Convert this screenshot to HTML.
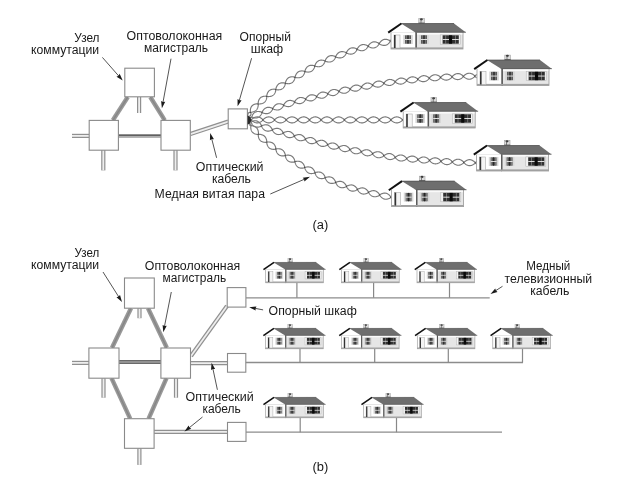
<!DOCTYPE html><html><head><meta charset="utf-8"><style>html,body{margin:0;padding:0;background:#fff}svg{display:block;filter:grayscale(1)}</style></head><body>
<svg width="623" height="498" viewBox="0 0 623 498">
<defs>
<symbol id="house" viewBox="0 0 78 31" overflow="visible">
  <!-- chimney -->
  <rect x="30.8" y="0.6" width="5.6" height="4.8" fill="#dcdcdc" stroke="#a0a0a0" stroke-width="0.6"/>
  <ellipse cx="33.4" cy="1.3" rx="1.5" ry="1.1" fill="#3a3a3a"/>
  <rect x="32.6" y="1.6" width="0.8" height="3.6" fill="#666"/>
  <rect x="30.6" y="4.6" width="6" height="0.8" fill="#555"/>
  <!-- gable body -->
  <rect x="3" y="14" width="25" height="17" fill="#fff" stroke="#999" stroke-width="0.8"/>
  <!-- right body -->
  <rect x="28" y="14" width="47" height="17" fill="#e6e6e6" stroke="#999" stroke-width="0.8"/>
  <rect x="28.6" y="14.4" width="45.8" height="2.2" fill="#fafafa"/>
  <!-- gable triangle -->
  <polygon points="0.5,14.4 13,5.8 27.5,14.4" fill="#fff"/>
  <!-- roof -->
  <polygon points="13,5.5 66,5.4 78,14.4 27.5,14.4" fill="#6e6e6e"/>
  <line x1="13" y1="5.6" x2="66" y2="5.5" stroke="#505050" stroke-width="0.8"/>
  <line x1="27.5" y1="14.2" x2="78" y2="14.2" stroke="#505050" stroke-width="0.6"/>
  <!-- gable edge black -->
  <line x1="0.2" y1="14.6" x2="13.4" y2="5.5" stroke="#111" stroke-width="2"/>
  <!-- divider -->
  <line x1="28.2" y1="14.4" x2="28.2" y2="31" stroke="#555" stroke-width="1.4"/>
  <!-- bottom stripe -->
  <rect x="3" y="29.4" width="72" height="1.6" fill="#a0a0a0"/>
  <!-- door -->
  <rect x="6" y="17" width="6" height="13" fill="#f4f4f4" stroke="#aaa" stroke-width="0.6"/>
  <rect x="6" y="17" width="1.6" height="13" fill="#333"/>
  <!-- windows -->
  <g id="win">
    <rect x="15.2" y="17" width="1.8" height="9" fill="#d8d8d8"/>
    <rect x="23" y="17" width="1.8" height="9" fill="#d8d8d8"/>
    <rect x="17" y="17.3" width="6" height="8.4" fill="#565656"/>
    <rect x="17.9" y="17.3" width="0.5" height="8.4" fill="#a0a0a0"/>
    <rect x="21.6" y="17.3" width="0.5" height="8.4" fill="#a0a0a0"/>
    <rect x="19.5" y="17.3" width="1" height="8.4" fill="#222"/>
    <rect x="17" y="21.1" width="6" height="0.9" fill="#f0f0f0"/>
  </g>
  <use href="#win" x="16" y="0"/>
  <rect x="52.2" y="16.9" width="20" height="9.3" fill="#f2f2f2" stroke="#b0b0b0" stroke-width="0.5"/>
  <rect x="54.6" y="17.3" width="16.2" height="8.4" fill="#303030"/>
  <rect x="57.5" y="17.3" width="0.6" height="8.4" fill="#9a9a9a"/>
  <rect x="67.3" y="17.3" width="0.6" height="8.4" fill="#9a9a9a"/>
  <rect x="54.6" y="21.1" width="16.2" height="0.9" fill="#eeeeee"/>
  <rect x="61" y="17.3" width="3.1" height="8.4" fill="#0a0a0a"/>
</symbol>
</defs>
<rect width="623" height="498" fill="#fff"/>
<path d="M72,135.9 L89.5,135.9" fill="none" stroke="#909090" stroke-width="4.2"/>
<path d="M72,135.9 L89.5,135.9" fill="none" stroke="#eeeeee" stroke-width="1.8"/>
<path d="M103.3,150 L103.3,170.4" fill="none" stroke="#909090" stroke-width="4.2"/>
<path d="M103.3,150 L103.3,170.4" fill="none" stroke="#eeeeee" stroke-width="1.8"/>
<path d="M175.5,150 L175.5,170.4" fill="none" stroke="#909090" stroke-width="4.2"/>
<path d="M175.5,150 L175.5,170.4" fill="none" stroke="#eeeeee" stroke-width="1.8"/>
<path d="M139.1,97 L139.1,113" fill="none" stroke="#909090" stroke-width="4.2"/>
<path d="M139.1,97 L139.1,113" fill="none" stroke="#eeeeee" stroke-width="1.8"/>
<path d="M190.3,134.1 L228.2,121.6" fill="none" stroke="#909090" stroke-width="4.2"/>
<path d="M190.3,134.1 L228.2,121.6" fill="none" stroke="#eeeeee" stroke-width="1.8"/>
<path d="M127.8,97 L112.8,120.3" fill="none" stroke="#999999" stroke-width="4.4"/>
<path d="M127.8,97 L112.8,120.3" fill="none" stroke="#868686" stroke-width="1.4"/>
<path d="M150.3,97 L164.8,120.3" fill="none" stroke="#999999" stroke-width="4.4"/>
<path d="M150.3,97 L164.8,120.3" fill="none" stroke="#868686" stroke-width="1.4"/>
<rect x="118.5" y="134.3" width="42.5" height="1.9" fill="#606060"/><rect x="118.5" y="136.2" width="42.5" height="1.6" fill="#a2a2a2"/>
<rect x="124.8" y="68.2" width="29.60000000000001" height="28.599999999999994" fill="#fff" stroke="#8a8a8a" stroke-width="1.1"/>
<rect x="89.2" y="120.4" width="29.200000000000003" height="29.799999999999983" fill="#fff" stroke="#8a8a8a" stroke-width="1.1"/>
<rect x="161" y="120.4" width="29.30000000000001" height="29.799999999999983" fill="#fff" stroke="#8a8a8a" stroke-width="1.1"/>
<rect x="228.2" y="108.9" width="19.200000000000017" height="19.900000000000006" fill="#fff" stroke="#8a8a8a" stroke-width="1.1"/>
<path d="M248.00,117.00 L247.94,116.51 L247.88,116.03 L247.84,115.56 L247.81,115.10 L247.82,114.67 L247.88,114.24 L247.98,113.84 L248.15,113.46 L248.39,113.11 L248.70,112.80 L249.18,112.59 L249.70,112.42 L250.27,112.29 L250.99,112.29 L251.55,112.21 L252.05,112.11 L252.53,111.99 L252.99,111.87 L253.43,111.74 L253.85,111.59 L254.25,111.43 L254.63,111.25 L254.99,111.06 L255.33,110.86 L255.65,110.64 L255.96,110.39 L256.24,110.13 L256.51,109.86 L256.75,109.56 L256.98,109.24 L257.18,108.91 L257.38,108.55 L257.55,108.18 L257.70,107.78 L257.84,107.37 L257.96,106.94 L258.07,106.49 L258.15,106.02 L258.22,105.53 L258.28,105.01 L258.30,104.46 L258.21,103.79 L258.16,103.17 L258.20,102.62 L258.27,102.10 L258.37,101.61 L258.49,101.14 L258.62,100.68 L258.78,100.25 L258.96,99.84 L259.15,99.44 L259.37,99.07 L259.61,98.72 L259.86,98.40 L260.14,98.09 L260.43,97.81 L260.75,97.55 L261.08,97.31 L261.43,97.10 L261.81,96.91 L262.20,96.74 L262.60,96.60 L263.03,96.47 L263.47,96.37 L263.93,96.29 L264.41,96.23 L264.90,96.20 L265.41,96.19 L265.95,96.21 L266.53,96.28 L267.21,96.49 L267.77,96.55 L268.30,96.57 L268.81,96.56 L269.29,96.54 L269.76,96.49 L270.21,96.42 L270.65,96.34 L271.06,96.23 L271.46,96.11 L271.85,95.96 L272.22,95.79 L272.57,95.60 L272.90,95.39 L273.21,95.15 L273.51,94.90 L273.79,94.62 L274.06,94.32 L274.31,93.99 L274.54,93.65 L274.76,93.28 L274.96,92.89 L275.15,92.48 L275.32,92.04 L275.49,91.59 L275.63,91.11 L275.76,90.61 L275.86,90.07 L275.86,89.38 L275.92,88.77 L276.04,88.23 L276.19,87.74 L276.36,87.26 L276.54,86.81 L276.74,86.39 L276.96,85.98 L277.19,85.60 L277.44,85.24 L277.71,84.91 L277.99,84.60 L278.29,84.31 L278.60,84.05 L278.93,83.81 L279.28,83.60 L279.64,83.42 L280.02,83.26 L280.41,83.12 L280.82,83.01 L281.24,82.93 L281.68,82.86 L282.13,82.82 L282.59,82.81 L283.07,82.81 L283.56,82.84 L284.07,82.90 L284.60,82.99 L285.17,83.14 L285.82,83.42 L286.37,83.54 L286.90,83.62 L287.40,83.67 L287.88,83.69 L288.35,83.70 L288.81,83.68 L289.25,83.64 L289.68,83.57 L290.10,83.49 L290.50,83.38 L290.88,83.25 L291.25,83.09 L291.61,82.91 L291.95,82.70 L292.27,82.47 L292.58,82.22 L292.88,81.94 L293.16,81.63 L293.42,81.31 L293.68,80.95 L293.92,80.58 L294.14,80.18 L294.36,79.77 L294.56,79.32 L294.74,78.86 L294.91,78.36 L295.05,77.82 L295.10,77.13 L295.21,76.53 L295.36,76.01 L295.54,75.53 L295.73,75.07 L295.93,74.64 L296.15,74.22 L296.39,73.84 L296.64,73.47 L296.90,73.13 L297.18,72.81 L297.47,72.52 L297.78,72.25 L298.10,72.00 L298.44,71.78 L298.79,71.59 L299.16,71.42 L299.54,71.27 L299.94,71.16 L300.35,71.06 L300.78,70.99 L301.22,70.95 L301.67,70.92 L302.14,70.92 L302.62,70.95 L303.11,71.00 L303.62,71.08 L304.15,71.19 L304.71,71.37 L305.35,71.68 L305.89,71.82 L306.41,71.92 L306.90,71.99 L307.39,72.04 L307.86,72.06 L308.32,72.06 L308.76,72.04 L309.19,71.99 L309.61,71.92 L310.01,71.83 L310.40,71.71 L310.77,71.57 L311.13,71.41 L311.48,71.22 L311.81,71.00 L312.13,70.76 L312.44,70.49 L312.73,70.21 L313.01,69.89 L313.28,69.55 L313.53,69.19 L313.78,68.81 L314.01,68.40 L314.23,67.97 L314.44,67.52 L314.63,67.03 L314.81,66.50 L314.89,65.80 L315.05,65.23 L315.24,64.72 L315.45,64.25 L315.67,63.81 L315.91,63.39 L316.17,63.00 L316.43,62.63 L316.71,62.28 L317.00,61.96 L317.31,61.66 L317.62,61.39 L317.96,61.15 L318.30,60.93 L318.66,60.74 L319.03,60.57 L319.42,60.44 L319.81,60.33 L320.22,60.24 L320.65,60.18 L321.08,60.15 L321.53,60.15 L321.98,60.17 L322.45,60.21 L322.93,60.28 L323.42,60.38 L323.92,60.51 L324.43,60.68 L324.98,60.92 L325.58,61.28 L326.10,61.48 L326.60,61.64 L327.09,61.76 L327.56,61.86 L328.02,61.94 L328.47,61.99 L328.91,62.02 L329.34,62.03 L329.75,62.01 L330.16,61.97 L330.56,61.90 L330.95,61.80 L331.32,61.68 L331.69,61.54 L332.05,61.36 L332.39,61.16 L332.73,60.94 L333.06,60.68 L333.37,60.41 L333.68,60.10 L333.98,59.77 L334.27,59.42 L334.55,59.04 L334.83,58.64 L335.09,58.21 L335.34,57.74 L335.57,57.23 L335.73,56.54 L335.95,55.99 L336.20,55.51 L336.46,55.07 L336.73,54.66 L337.02,54.27 L337.31,53.91 L337.61,53.57 L337.93,53.26 L338.25,52.97 L338.58,52.71 L338.93,52.48 L339.28,52.27 L339.65,52.10 L340.02,51.94 L340.40,51.82 L340.80,51.73 L341.20,51.66 L341.62,51.62 L342.04,51.61 L342.47,51.62 L342.91,51.66 L343.36,51.72 L343.82,51.81 L344.29,51.93 L344.76,52.07 L345.25,52.24 L345.75,52.46 L346.28,52.75 L346.84,53.16 L347.35,53.39 L347.84,53.57 L348.32,53.73 L348.79,53.85 L349.25,53.95 L349.70,54.03 L350.14,54.08 L350.57,54.11 L350.99,54.11 L351.40,54.08 L351.80,54.03 L352.20,53.96 L352.58,53.85 L352.95,53.72 L353.32,53.56 L353.67,53.38 L354.02,53.17 L354.35,52.93 L354.68,52.67 L355.00,52.38 L355.31,52.07 L355.62,51.73 L355.92,51.37 L356.21,50.98 L356.49,50.56 L356.77,50.12 L357.03,49.62 L357.24,48.94 L357.50,48.41 L357.78,47.95 L358.08,47.53 L358.38,47.14 L358.70,46.78 L359.02,46.44 L359.36,46.13 L359.70,45.85 L360.05,45.59 L360.40,45.36 L360.77,45.16 L361.14,44.98 L361.52,44.84 L361.91,44.72 L362.31,44.63 L362.71,44.57 L363.12,44.54 L363.54,44.54 L363.96,44.57 L364.39,44.62 L364.83,44.70 L365.27,44.81 L365.72,44.94 L366.18,45.10 L366.64,45.29 L367.11,45.51 L367.59,45.77 L368.09,46.13 L368.61,46.57 L369.09,46.85 L369.56,47.08 L370.01,47.28 L370.46,47.45 L370.90,47.60 L371.34,47.73 L371.77,47.82 L372.19,47.90 L372.61,47.95 L373.02,47.97 L373.43,47.96 L373.83,47.92 L374.22,47.86 L374.61,47.77 L374.99,47.65 L375.36,47.50 L375.73,47.33 L376.10,47.13 L376.46,46.90 L376.81,46.64 L377.16,46.35 L377.50,46.04 L377.84,45.71 L378.17,45.35 L378.49,44.96 L378.80,44.53 L379.10,44.04 L379.36,43.38 L379.66,42.88 L379.97,42.44 L380.28,42.04 L380.61,41.67 L380.94,41.33 L381.27,41.01 L381.62,40.72 L381.96,40.46 L382.32,40.22 L382.68,40.01 L383.05,39.82 L383.42,39.66 L383.80,39.53 L384.19,39.43 L384.58,39.36 L384.98,39.32 L385.39,39.30 L385.80,39.31 L386.22,39.35 L386.65,39.42 L387.08,39.51 L387.52,39.63 L387.97,39.77 L388.42,39.94 L388.87,40.14 L389.34,40.37 L389.81,40.64 L390.31,41.02 L390.83,41.46 L391.30,41.74 L391.77,41.97" fill="none" stroke="#7a7a7a" stroke-width="1.15"/>
<path d="M248.00,117.00 L248.46,116.80 L248.90,116.58 L249.32,116.34 L249.71,116.08 L250.07,115.81 L250.38,115.52 L250.64,115.22 L250.84,114.89 L250.99,114.53 L251.06,114.14 L250.98,113.66 L250.88,113.15 L250.74,112.60 L250.47,111.94 L250.37,111.36 L250.34,110.82 L250.34,110.30 L250.38,109.79 L250.45,109.30 L250.54,108.84 L250.65,108.38 L250.79,107.95 L250.95,107.54 L251.14,107.14 L251.35,106.77 L251.58,106.41 L251.84,106.08 L252.11,105.77 L252.41,105.49 L252.74,105.22 L253.08,104.98 L253.45,104.76 L253.83,104.56 L254.24,104.38 L254.66,104.22 L255.11,104.09 L255.57,103.97 L256.05,103.88 L256.55,103.81 L257.07,103.77 L257.62,103.76 L258.29,103.88 L258.91,103.95 L259.45,103.95 L259.97,103.92 L260.46,103.87 L260.93,103.80 L261.38,103.71 L261.82,103.61 L262.24,103.49 L262.64,103.34 L263.02,103.18 L263.38,103.00 L263.73,102.80 L264.05,102.58 L264.36,102.34 L264.65,102.08 L264.92,101.79 L265.18,101.48 L265.42,101.15 L265.63,100.80 L265.84,100.43 L266.02,100.04 L266.19,99.63 L266.35,99.20 L266.49,98.75 L266.61,98.27 L266.72,97.77 L266.80,97.25 L266.84,96.67 L266.78,95.96 L266.84,95.39 L266.93,94.87 L267.05,94.37 L267.19,93.90 L267.35,93.45 L267.53,93.02 L267.72,92.61 L267.94,92.23 L268.17,91.86 L268.41,91.52 L268.68,91.20 L268.97,90.90 L269.27,90.63 L269.59,90.38 L269.93,90.15 L270.29,89.95 L270.66,89.77 L271.06,89.62 L271.47,89.49 L271.89,89.38 L272.33,89.30 L272.79,89.24 L273.26,89.20 L273.75,89.18 L274.26,89.19 L274.78,89.23 L275.33,89.31 L275.98,89.54 L276.57,89.69 L277.11,89.77 L277.62,89.81 L278.11,89.83 L278.59,89.83 L279.05,89.80 L279.50,89.76 L279.93,89.70 L280.34,89.61 L280.75,89.51 L281.13,89.38 L281.50,89.22 L281.86,89.05 L282.20,88.85 L282.52,88.62 L282.83,88.38 L283.13,88.10 L283.41,87.81 L283.68,87.49 L283.93,87.14 L284.17,86.78 L284.39,86.39 L284.60,85.98 L284.80,85.54 L284.98,85.08 L285.15,84.60 L285.30,84.08 L285.41,83.51 L285.43,82.80 L285.55,82.25 L285.71,81.74 L285.88,81.27 L286.08,80.81 L286.28,80.39 L286.50,79.98 L286.74,79.60 L286.99,79.24 L287.26,78.90 L287.54,78.59 L287.83,78.30 L288.14,78.04 L288.47,77.80 L288.81,77.59 L289.17,77.40 L289.54,77.24 L289.93,77.10 L290.33,76.99 L290.75,76.90 L291.18,76.84 L291.62,76.80 L292.08,76.78 L292.55,76.78 L293.04,76.81 L293.54,76.87 L294.06,76.95 L294.60,77.07 L295.24,77.35 L295.81,77.54 L296.34,77.64 L296.85,77.72 L297.35,77.76 L297.83,77.78 L298.29,77.78 L298.74,77.76 L299.18,77.71 L299.60,77.64 L300.01,77.55 L300.41,77.43 L300.79,77.29 L301.15,77.13 L301.50,76.94 L301.84,76.72 L302.16,76.49 L302.46,76.22 L302.75,75.93 L303.03,75.62 L303.29,75.29 L303.54,74.93 L303.78,74.55 L304.01,74.15 L304.22,73.72 L304.42,73.27 L304.60,72.79 L304.77,72.28 L304.90,71.70 L304.96,71.00 L305.11,70.46 L305.29,69.96 L305.49,69.50 L305.70,69.06 L305.92,68.64 L306.16,68.25 L306.42,67.88 L306.68,67.53 L306.96,67.21 L307.26,66.91 L307.57,66.64 L307.89,66.39 L308.23,66.17 L308.58,65.97 L308.95,65.80 L309.34,65.65 L309.73,65.54 L310.14,65.44 L310.57,65.38 L311.00,65.33 L311.45,65.32 L311.91,65.32 L312.39,65.35 L312.87,65.41 L313.37,65.49 L313.89,65.61 L314.42,65.77 L315.05,66.10 L315.60,66.31 L316.13,66.45 L316.63,66.55 L317.11,66.63 L317.59,66.69 L318.05,66.72 L318.50,66.73 L318.93,66.72 L319.36,66.68 L319.77,66.62 L320.17,66.54 L320.55,66.43 L320.93,66.29 L321.29,66.13 L321.63,65.95 L321.97,65.74 L322.29,65.50 L322.61,65.24 L322.90,64.95 L323.19,64.64 L323.47,64.31 L323.74,63.95 L324.00,63.57 L324.25,63.16 L324.49,62.73 L324.72,62.28 L324.93,61.78 L325.11,61.21 L325.25,60.52 L325.46,60.00 L325.69,59.53 L325.94,59.09 L326.21,58.68 L326.48,58.29 L326.77,57.93 L327.07,57.59 L327.38,57.28 L327.70,56.99 L328.03,56.73 L328.38,56.50 L328.73,56.30 L329.10,56.12 L329.48,55.97 L329.86,55.85 L330.26,55.75 L330.67,55.69 L331.09,55.65 L331.52,55.64 L331.95,55.65 L332.40,55.69 L332.85,55.76 L333.32,55.85 L333.79,55.96 L334.28,56.10 L334.77,56.28 L335.29,56.51 L335.87,56.91 L336.40,57.17 L336.90,57.37 L337.39,57.52 L337.86,57.65 L338.33,57.76 L338.78,57.84 L339.23,57.90 L339.67,57.93 L340.09,57.94 L340.51,57.92 L340.91,57.87 L341.31,57.80 L341.70,57.71 L342.08,57.58 L342.44,57.43 L342.80,57.25 L343.15,57.05 L343.49,56.81 L343.82,56.56 L344.14,56.27 L344.45,55.96 L344.75,55.63 L345.05,55.27 L345.34,54.89 L345.61,54.48 L345.88,54.04 L346.14,53.56 L346.36,52.99 L346.55,52.33 L346.80,51.83 L347.06,51.38 L347.34,50.96 L347.62,50.56 L347.92,50.20 L348.22,49.85 L348.54,49.54 L348.86,49.24 L349.19,48.98 L349.54,48.74 L349.89,48.53 L350.25,48.34 L350.63,48.18 L351.01,48.05 L351.40,47.95 L351.81,47.88 L352.22,47.84 L352.64,47.82 L353.07,47.83 L353.51,47.87 L353.96,47.93 L354.41,48.02 L354.88,48.13 L355.35,48.28 L355.83,48.45 L356.31,48.66 L356.82,48.92 L357.37,49.37 L357.88,49.66 L358.36,49.89 L358.83,50.08 L359.29,50.25 L359.75,50.39 L360.19,50.50 L360.63,50.59 L361.06,50.66 L361.48,50.70 L361.89,50.72 L362.30,50.71 L362.69,50.67 L363.09,50.61 L363.47,50.51 L363.85,50.39 L364.22,50.25 L364.58,50.07 L364.94,49.87 L365.28,49.64 L365.63,49.39 L365.97,49.11 L366.30,48.80 L366.62,48.47 L366.94,48.11 L367.26,47.73 L367.56,47.31 L367.86,46.86 L368.13,46.31 L368.39,45.67 L368.69,45.20 L369.00,44.78 L369.32,44.39 L369.65,44.03 L369.98,43.70 L370.33,43.39 L370.68,43.11 L371.03,42.86 L371.40,42.63 L371.77,42.43 L372.14,42.26 L372.52,42.12 L372.91,42.01 L373.30,41.93 L373.70,41.87 L374.11,41.85 L374.52,41.85 L374.93,41.88 L375.36,41.94 L375.79,42.02 L376.22,42.13 L376.66,42.27 L377.10,42.43 L377.55,42.61 L378.01,42.83 L378.47,43.08 L378.95,43.39 L379.48,43.87 L379.96,44.19 L380.43,44.45 L380.89,44.67 L381.35,44.86 L381.80,45.02 L382.24,45.15 L382.68,45.26 L383.11,45.35 L383.53,45.40 L383.95,45.43 L384.36,45.44 L384.77,45.41 L385.17,45.36 L385.56,45.27 L385.94,45.16 L386.32,45.02 L386.69,44.86 L387.06,44.66 L387.42,44.44 L387.77,44.19 L388.11,43.92 L388.45,43.61 L388.79,43.29 L389.12,42.94 L389.44,42.56 L389.75,42.14 L390.06,41.69 L390.34,41.13 L390.60,40.51 L390.91,40.05 L391.22,39.63" fill="none" stroke="#7a7a7a" stroke-width="1.15"/>
<path d="M249.86,112.45a0.65,0.65 0 1 0 1.3,0a0.65,0.65 0 1 0 -1.3,0M257.31,104.11a0.65,0.65 0 1 0 1.3,0a0.65,0.65 0 1 0 -1.3,0M266.04,96.47a0.65,0.65 0 1 0 1.3,0a0.65,0.65 0 1 0 -1.3,0M274.94,89.69a0.65,0.65 0 1 0 1.3,0a0.65,0.65 0 1 0 -1.3,0M284.64,83.32a0.65,0.65 0 1 0 1.3,0a0.65,0.65 0 1 0 -1.3,0M294.17,77.45a0.65,0.65 0 1 0 1.3,0a0.65,0.65 0 1 0 -1.3,0M304.15,71.54a0.65,0.65 0 1 0 1.3,0a0.65,0.65 0 1 0 -1.3,0M313.96,66.13a0.65,0.65 0 1 0 1.3,0a0.65,0.65 0 1 0 -1.3,0M324.40,61.07a0.65,0.65 0 1 0 1.3,0a0.65,0.65 0 1 0 -1.3,0M334.78,56.87a0.65,0.65 0 1 0 1.3,0a0.65,0.65 0 1 0 -1.3,0M345.67,52.87a0.65,0.65 0 1 0 1.3,0a0.65,0.65 0 1 0 -1.3,0M356.27,49.27a0.65,0.65 0 1 0 1.3,0a0.65,0.65 0 1 0 -1.3,0M367.46,46.22a0.65,0.65 0 1 0 1.3,0a0.65,0.65 0 1 0 -1.3,0M378.38,43.72a0.65,0.65 0 1 0 1.3,0a0.65,0.65 0 1 0 -1.3,0M389.67,41.08a0.65,0.65 0 1 0 1.3,0a0.65,0.65 0 1 0 -1.3,0" fill="#4a4a4a"/>
<path d="M249.50,118.00 L249.94,118.00 L250.35,117.95 L250.74,117.83 L251.10,117.65 L251.42,117.39 L251.66,116.95 L251.89,116.49 L252.11,116.00 L252.32,115.49 L252.51,114.94 L252.77,114.53 L253.03,114.15 L253.31,113.80 L253.60,113.46 L253.90,113.15 L254.21,112.87 L254.54,112.61 L254.88,112.38 L255.23,112.17 L255.59,111.99 L255.97,111.84 L256.35,111.71 L256.75,111.62 L257.16,111.54 L257.59,111.50 L258.02,111.48 L258.47,111.49 L258.92,111.52 L259.39,111.58 L259.86,111.67 L260.35,111.78 L260.84,111.92 L261.35,112.10 L261.88,112.35 L262.47,112.75 L262.98,112.98 L263.48,113.15 L263.96,113.30 L264.43,113.42 L264.89,113.51 L265.34,113.59 L265.78,113.64 L266.21,113.66 L266.63,113.66 L267.04,113.64 L267.44,113.59 L267.83,113.51 L268.21,113.41 L268.58,113.28 L268.95,113.12 L269.30,112.94 L269.65,112.73 L269.99,112.50 L270.32,112.23 L270.64,111.95 L270.95,111.63 L271.25,111.29 L271.55,110.93 L271.84,110.54 L272.12,110.13 L272.39,109.68 L272.64,109.19 L272.84,108.53 L273.07,107.96 L273.33,107.48 L273.61,107.05 L273.90,106.64 L274.20,106.26 L274.50,105.91 L274.82,105.58 L275.14,105.27 L275.48,105.00 L275.82,104.74 L276.17,104.52 L276.53,104.32 L276.90,104.15 L277.28,104.01 L277.67,103.90 L278.06,103.82 L278.47,103.76 L278.88,103.73 L279.30,103.73 L279.73,103.75 L280.17,103.81 L280.61,103.88 L281.07,103.99 L281.53,104.12 L281.99,104.27 L282.47,104.46 L282.96,104.68 L283.46,104.96 L284.02,105.41 L284.52,105.68 L285.00,105.89 L285.47,106.08 L285.94,106.23 L286.39,106.36 L286.84,106.46 L287.28,106.54 L287.71,106.59 L288.13,106.62 L288.55,106.62 L288.95,106.60 L289.35,106.54 L289.74,106.46 L290.12,106.36 L290.50,106.22 L290.86,106.06 L291.22,105.87 L291.57,105.66 L291.92,105.42 L292.25,105.15 L292.58,104.86 L292.91,104.54 L293.22,104.20 L293.53,103.83 L293.84,103.43 L294.13,103.01 L294.42,102.53 L294.66,101.90 L294.92,101.34 L295.21,100.87 L295.52,100.45 L295.84,100.07 L296.16,99.71 L296.49,99.37 L296.83,99.06 L297.17,98.78 L297.53,98.53 L297.89,98.30 L298.25,98.10 L298.63,97.93 L299.01,97.78 L299.39,97.67 L299.79,97.58 L300.19,97.52 L300.59,97.49 L301.01,97.49 L301.42,97.52 L301.85,97.57 L302.28,97.65 L302.72,97.76 L303.16,97.89 L303.61,98.05 L304.06,98.23 L304.52,98.44 L304.99,98.69 L305.48,99.00 L306.01,99.48 L306.50,99.78 L306.97,100.02 L307.43,100.23 L307.88,100.41 L308.33,100.56 L308.78,100.69 L309.21,100.79 L309.64,100.87 L310.07,100.92 L310.48,100.94 L310.89,100.94 L311.30,100.90 L311.69,100.84 L312.08,100.76 L312.47,100.64 L312.84,100.49 L313.21,100.32 L313.58,100.12 L313.93,99.89 L314.28,99.64 L314.63,99.36 L314.96,99.05 L315.29,98.72 L315.62,98.37 L315.94,97.98 L316.25,97.56 L316.55,97.10 L316.81,96.50 L317.08,95.92 L317.38,95.46 L317.69,95.04 L318.00,94.66 L318.33,94.30 L318.65,93.97 L318.99,93.66 L319.33,93.38 L319.68,93.12 L320.03,92.90 L320.40,92.69 L320.77,92.52 L321.14,92.37 L321.53,92.26 L321.92,92.17 L322.32,92.10 L322.72,92.07 L323.13,92.07 L323.55,92.09 L323.98,92.14 L324.41,92.21 L324.85,92.32 L325.30,92.44 L325.75,92.60 L326.20,92.78 L326.67,92.99 L327.14,93.24 L327.62,93.55 L328.15,94.03 L328.63,94.35 L329.10,94.60 L329.56,94.81 L330.01,95.00 L330.46,95.16 L330.90,95.30 L331.33,95.41 L331.76,95.49 L332.18,95.55 L332.59,95.59 L333.00,95.59 L333.40,95.57 L333.80,95.52 L334.19,95.44 L334.57,95.33 L334.95,95.20 L335.32,95.04 L335.69,94.85 L336.05,94.63 L336.40,94.39 L336.75,94.12 L337.09,93.83 L337.43,93.51 L337.77,93.16 L338.10,92.79 L338.42,92.39 L338.73,91.94 L339.03,91.38 L339.31,90.77 L339.63,90.32 L339.95,89.92 L340.29,89.54 L340.63,89.20 L340.97,88.88 L341.32,88.59 L341.68,88.32 L342.04,88.08 L342.41,87.87 L342.79,87.68 L343.16,87.53 L343.55,87.40 L343.94,87.30 L344.33,87.23 L344.74,87.19 L345.14,87.17 L345.55,87.19 L345.97,87.23 L346.39,87.30 L346.82,87.40 L347.25,87.52 L347.69,87.67 L348.13,87.85 L348.57,88.05 L349.02,88.28 L349.48,88.55 L349.95,88.87 L350.45,89.38 L350.92,89.72 L351.38,89.99 L351.83,90.23 L352.27,90.44 L352.71,90.62 L353.14,90.78 L353.57,90.91 L354.00,91.02 L354.42,91.10 L354.83,91.15 L355.24,91.17 L355.65,91.17 L356.05,91.14 L356.44,91.08 L356.83,90.99 L357.22,90.87 L357.60,90.72 L357.97,90.55 L358.34,90.35 L358.71,90.12 L359.07,89.86 L359.43,89.58 L359.78,89.27 L360.13,88.94 L360.47,88.58 L360.80,88.18 L361.13,87.75 L361.44,87.21 L361.73,86.60 L362.06,86.15 L362.39,85.75 L362.73,85.38 L363.07,85.04 L363.42,84.72 L363.77,84.43 L364.13,84.17 L364.49,83.93 L364.86,83.72 L365.23,83.54 L365.61,83.39 L365.99,83.26 L366.38,83.16 L366.78,83.09 L367.18,83.05 L367.58,83.04 L367.99,83.05 L368.41,83.10 L368.83,83.17 L369.26,83.27 L369.69,83.39 L370.12,83.54 L370.56,83.72 L371.01,83.92 L371.46,84.16 L371.91,84.43 L372.38,84.75 L372.87,85.26 L373.34,85.61 L373.80,85.90 L374.24,86.14 L374.69,86.36 L375.12,86.55 L375.56,86.71 L375.99,86.84 L376.41,86.96 L376.83,87.04 L377.24,87.10 L377.65,87.13 L378.05,87.13 L378.45,87.10 L378.85,87.05 L379.23,86.97 L379.62,86.86 L380.00,86.72 L380.37,86.55 L380.74,86.36 L381.11,86.14 L381.47,85.90 L381.83,85.62 L382.19,85.33 L382.54,85.00 L382.89,84.65 L383.23,84.27 L383.57,83.85 L383.90,83.34 L384.22,82.73 L384.56,82.29 L384.91,81.90 L385.27,81.54 L385.63,81.22 L386.00,80.92 L386.37,80.64 L386.74,80.40 L387.12,80.18 L387.50,79.99 L387.89,79.82 L388.28,79.69 L388.67,79.58 L389.06,79.51 L389.46,79.46 L389.87,79.44 L390.27,79.45 L390.68,79.49 L391.10,79.56 L391.51,79.65 L391.93,79.77 L392.35,79.92 L392.78,80.10 L393.20,80.30 L393.63,80.53 L394.07,80.79 L394.51,81.08 L394.95,81.42 L395.42,81.95 L395.87,82.34 L396.30,82.65 L396.74,82.92 L397.17,83.16 L397.60,83.37 L398.02,83.56 L398.44,83.72 L398.86,83.86 L399.27,83.96 L399.68,84.05 L400.09,84.10 L400.49,84.13 L400.89,84.12 L401.29,84.09 L401.69,84.03 L402.08,83.94 L402.47,83.82 L402.85,83.68 L403.24,83.50 L403.62,83.30 L403.99,83.07 L404.37,82.82 L404.74,82.54 L405.11,82.23 L405.47,81.90 L405.83,81.53 L406.19,81.13 L406.54,80.64 L406.87,80.02 L407.22,79.59 L407.58,79.21 L407.95,78.86 L408.31,78.54 L408.68,78.25 L409.06,77.99 L409.43,77.75 L409.81,77.53 L410.19,77.35 L410.58,77.19 L410.97,77.06 L411.36,76.96 L411.75,76.88 L412.15,76.84 L412.56,76.82 L412.96,76.84 L413.37,76.88 L413.78,76.95 L414.20,77.05 L414.61,77.18 L415.03,77.33 L415.46,77.51 L415.88,77.72 L416.31,77.95 L416.74,78.21 L417.17,78.51 L417.61,78.86 L418.07,79.39 L418.51,79.79 L418.95,80.11 L419.38,80.39 L419.80,80.64 L420.23,80.86 L420.65,81.06 L421.07,81.23 L421.48,81.37 L421.89,81.49 L422.30,81.58 L422.71,81.64 L423.11,81.67 L423.51,81.68 L423.91,81.66 L424.30,81.61 L424.70,81.53 L425.08,81.42 L425.47,81.28 L425.85,81.12 L426.24,80.92 L426.62,80.71 L426.99,80.46 L427.37,80.19 L427.74,79.90 L428.12,79.57 L428.49,79.22 L428.85,78.83 L429.22,78.36 L429.57,77.75 L429.94,77.33 L430.31,76.96 L430.69,76.62 L431.07,76.31 L431.45,76.03 L431.84,75.78 L432.23,75.56 L432.62,75.36 L433.01,75.19 L433.40,75.04 L433.80,74.93 L434.19,74.84 L434.59,74.79 L434.99,74.76 L435.40,74.76 L435.80,74.79 L436.21,74.85 L436.62,74.94 L437.03,75.06 L437.44,75.20 L437.85,75.37 L438.26,75.57 L438.68,75.80 L439.09,76.05 L439.51,76.33 L439.93,76.64 L440.35,77.00 L440.78,77.55 L441.21,77.98 L441.63,78.32 L442.05,78.62 L442.46,78.89 L442.88,79.13 L443.29,79.34 L443.70,79.53 L444.11,79.70 L444.51,79.83 L444.92,79.94 L445.32,80.02 L445.72,80.08 L446.12,80.10 L446.52,80.10 L446.92,80.06 L447.32,80.00 L447.71,79.91 L448.10,79.79 L448.50,79.65 L448.89,79.47 L449.28,79.27 L449.67,79.04 L450.05,78.79 L450.44,78.51 L450.83,78.20 L451.21,77.87 L451.59,77.49 L451.97,77.04 L452.34,76.44 L452.73,76.02 L453.11,75.66 L453.50,75.33 L453.88,75.04 L454.27,74.77 L454.66,74.52 L455.05,74.31 L455.45,74.12 L455.84,73.95 L456.24,73.82 L456.63,73.71 L457.03,73.64 L457.43,73.59 L457.83,73.57 L458.23,73.58 L458.64,73.62 L459.04,73.68 L459.45,73.78 L459.86,73.91 L460.26,74.06 L460.67,74.24 L461.08,74.44 L461.49,74.67 L461.90,74.93 L462.31,75.22 L462.72,75.54 L463.14,75.92 L463.55,76.46 L463.97,76.91 L464.38,77.27 L464.78,77.59 L465.19,77.87 L465.59,78.13 L466.00,78.36 L466.40,78.56 L466.80,78.74 L467.20,78.89 L467.60,79.02 L468.00,79.12 L468.40,79.19 L468.79,79.23 L469.19,79.24 L469.59,79.22 L469.99,79.18 L470.38,79.11 L470.78,79.00 L471.18,78.87 L471.58,78.72 L471.98,78.53 L472.37,78.32 L472.77,78.08 L473.16,77.82 L473.56,77.53 L473.95,77.21 L474.35,76.86 L474.75,76.43 L475.15,75.85 L475.55,75.45 L475.96,75.10 L476.36,74.79 L476.76,74.52" fill="none" stroke="#7a7a7a" stroke-width="1.15"/>
<path d="M249.50,118.00 L249.80,117.68 L250.11,117.41 L250.46,117.20 L250.83,117.05 L251.24,116.99 L251.73,117.10 L252.23,117.24 L252.74,117.39 L253.26,117.58 L253.80,117.80 L254.27,117.88 L254.73,117.93 L255.18,117.96 L255.62,117.97 L256.05,117.95 L256.47,117.90 L256.87,117.84 L257.27,117.74 L257.65,117.62 L258.02,117.48 L258.37,117.31 L258.72,117.11 L259.05,116.89 L259.37,116.64 L259.68,116.37 L259.99,116.07 L260.28,115.75 L260.56,115.41 L260.83,115.04 L261.09,114.65 L261.35,114.23 L261.60,113.79 L261.83,113.31 L262.04,112.76 L262.20,112.07 L262.43,111.55 L262.68,111.08 L262.95,110.65 L263.22,110.25 L263.51,109.87 L263.81,109.51 L264.12,109.18 L264.44,108.88 L264.77,108.60 L265.11,108.35 L265.47,108.13 L265.83,107.94 L266.20,107.77 L266.58,107.63 L266.97,107.52 L267.37,107.44 L267.78,107.38 L268.20,107.36 L268.62,107.35 L269.06,107.38 L269.50,107.43 L269.95,107.51 L270.41,107.61 L270.88,107.74 L271.36,107.90 L271.84,108.08 L272.35,108.32 L272.91,108.72 L273.43,109.03 L273.93,109.25 L274.41,109.43 L274.88,109.59 L275.34,109.71 L275.80,109.81 L276.24,109.89 L276.68,109.95 L277.10,109.98 L277.52,109.98 L277.93,109.96 L278.33,109.91 L278.72,109.83 L279.11,109.73 L279.48,109.60 L279.85,109.44 L280.20,109.25 L280.55,109.04 L280.90,108.80 L281.23,108.54 L281.55,108.25 L281.87,107.93 L282.18,107.59 L282.49,107.23 L282.79,106.84 L283.07,106.42 L283.35,105.96 L283.61,105.44 L283.82,104.76 L284.09,104.26 L284.37,103.81 L284.66,103.39 L284.96,103.01 L285.28,102.65 L285.59,102.32 L285.92,102.01 L286.26,101.73 L286.60,101.47 L286.95,101.24 L287.31,101.04 L287.68,100.87 L288.06,100.72 L288.45,100.60 L288.84,100.51 L289.24,100.45 L289.65,100.42 L290.07,100.41 L290.50,100.43 L290.93,100.48 L291.37,100.56 L291.82,100.66 L292.27,100.79 L292.73,100.94 L293.20,101.12 L293.68,101.34 L294.16,101.60 L294.69,102.02 L295.20,102.38 L295.68,102.64 L296.15,102.85 L296.61,103.04 L297.06,103.20 L297.50,103.33 L297.94,103.45 L298.37,103.53 L298.79,103.59 L299.21,103.63 L299.62,103.64 L300.02,103.62 L300.42,103.57 L300.81,103.50 L301.19,103.39 L301.57,103.26 L301.94,103.10 L302.31,102.92 L302.67,102.71 L303.02,102.47 L303.37,102.20 L303.71,101.91 L304.05,101.59 L304.38,101.24 L304.70,100.87 L305.01,100.47 L305.32,100.04 L305.61,99.54 L305.86,98.87 L306.15,98.38 L306.46,97.94 L306.77,97.54 L307.09,97.17 L307.42,96.83 L307.75,96.51 L308.10,96.22 L308.44,95.95 L308.80,95.72 L309.16,95.50 L309.52,95.32 L309.90,95.16 L310.28,95.03 L310.66,94.93 L311.06,94.86 L311.46,94.81 L311.87,94.79 L312.28,94.81 L312.70,94.84 L313.13,94.91 L313.56,95.00 L314.00,95.11 L314.45,95.26 L314.90,95.42 L315.36,95.62 L315.83,95.85 L316.31,96.12 L316.82,96.53 L317.33,96.92 L317.80,97.19 L318.27,97.41 L318.73,97.61 L319.19,97.77 L319.63,97.91 L320.08,98.03 L320.51,98.11 L320.94,98.17 L321.36,98.21 L321.77,98.22 L322.18,98.20 L322.58,98.15 L322.97,98.08 L323.36,97.97 L323.74,97.84 L324.11,97.68 L324.47,97.50 L324.83,97.28 L325.18,97.04 L325.52,96.78 L325.86,96.49 L326.20,96.17 L326.52,95.83 L326.84,95.46 L327.16,95.06 L327.47,94.63 L327.76,94.14 L328.02,93.47 L328.31,92.98 L328.62,92.55 L328.94,92.15 L329.27,91.78 L329.60,91.44 L329.94,91.13 L330.29,90.84 L330.64,90.58 L331.00,90.34 L331.37,90.14 L331.74,89.96 L332.12,89.80 L332.50,89.68 L332.89,89.58 L333.29,89.52 L333.70,89.48 L334.11,89.47 L334.52,89.49 L334.94,89.54 L335.37,89.61 L335.80,89.71 L336.24,89.84 L336.69,89.99 L337.13,90.17 L337.59,90.38 L338.05,90.62 L338.52,90.90 L339.01,91.30 L339.51,91.74 L339.98,92.03 L340.43,92.28 L340.88,92.49 L341.33,92.68 L341.77,92.84 L342.20,92.98 L342.63,93.09 L343.05,93.17 L343.47,93.23 L343.88,93.26 L344.28,93.26 L344.68,93.24 L345.08,93.19 L345.47,93.11 L345.85,93.00 L346.23,92.86 L346.61,92.69 L346.98,92.50 L347.34,92.28 L347.70,92.03 L348.05,91.76 L348.40,91.46 L348.75,91.14 L349.09,90.79 L349.42,90.41 L349.75,89.99 L350.07,89.52 L350.36,88.87 L350.67,88.38 L351.00,87.96 L351.34,87.58 L351.68,87.22 L352.03,86.90 L352.38,86.60 L352.74,86.32 L353.11,86.08 L353.47,85.86 L353.85,85.66 L354.22,85.50 L354.61,85.36 L354.99,85.25 L355.39,85.17 L355.78,85.12 L356.19,85.10 L356.59,85.10 L357.00,85.13 L357.42,85.19 L357.84,85.28 L358.27,85.40 L358.70,85.54 L359.14,85.70 L359.58,85.90 L360.02,86.11 L360.47,86.37 L360.93,86.66 L361.41,87.05 L361.90,87.52 L362.37,87.83 L362.82,88.08 L363.27,88.30 L363.71,88.50 L364.15,88.67 L364.59,88.81 L365.02,88.93 L365.44,89.02 L365.86,89.08 L366.27,89.12 L366.68,89.12 L367.08,89.10 L367.48,89.06 L367.87,88.98 L368.26,88.87 L368.64,88.74 L369.01,88.58 L369.38,88.39 L369.75,88.17 L370.11,87.93 L370.47,87.66 L370.82,87.37 L371.16,87.05 L371.51,86.70 L371.85,86.33 L372.18,85.92 L372.50,85.45 L372.79,84.81 L373.12,84.32 L373.45,83.90 L373.79,83.52 L374.13,83.17 L374.49,82.84 L374.84,82.54 L375.20,82.27 L375.57,82.03 L375.94,81.81 L376.31,81.61 L376.69,81.45 L377.08,81.32 L377.47,81.21 L377.86,81.13 L378.26,81.08 L378.67,81.06 L379.08,81.07 L379.49,81.11 L379.91,81.18 L380.34,81.27 L380.76,81.39 L381.20,81.54 L381.63,81.71 L382.07,81.92 L382.51,82.14 L382.96,82.41 L383.41,82.71 L383.87,83.11 L384.35,83.61 L384.79,83.93 L385.24,84.21 L385.67,84.46 L386.10,84.67 L386.53,84.87 L386.95,85.03 L387.37,85.17 L387.79,85.29 L388.20,85.38 L388.61,85.44 L389.01,85.47 L389.41,85.48 L389.81,85.45 L390.20,85.40 L390.59,85.32 L390.98,85.21 L391.37,85.08 L391.75,84.91 L392.13,84.72 L392.50,84.50 L392.87,84.26 L393.24,83.99 L393.61,83.69 L393.97,83.36 L394.34,83.01 L394.69,82.62 L395.04,82.18 L395.37,81.56 L395.71,81.08 L396.07,80.67 L396.43,80.31 L396.79,79.97 L397.16,79.67 L397.53,79.39 L397.91,79.13 L398.29,78.91 L398.67,78.71 L399.05,78.53 L399.44,78.39 L399.83,78.27 L400.22,78.19 L400.62,78.13 L401.02,78.10 L401.42,78.10 L401.83,78.13 L402.24,78.18 L402.65,78.27 L403.07,78.38 L403.48,78.52 L403.90,78.69 L404.33,78.88 L404.76,79.10 L405.19,79.34 L405.62,79.62 L406.06,79.93 L406.50,80.33 L406.96,80.86 L407.41,81.20 L407.84,81.49 L408.27,81.75 L408.70,81.98 L409.13,82.18 L409.55,82.36 L409.97,82.51 L410.38,82.64 L410.80,82.73 L411.21,82.80 L411.61,82.84 L412.02,82.86 L412.42,82.84 L412.81,82.80 L413.21,82.72 L413.60,82.62 L413.98,82.49 L414.37,82.33 L414.75,82.15 L415.12,81.93 L415.50,81.70 L415.87,81.43 L416.24,81.14 L416.61,80.82 L416.98,80.48 L417.34,80.10 L417.69,79.67 L418.03,79.05 L418.39,78.57 L418.75,78.17 L419.11,77.81 L419.48,77.48 L419.86,77.18 L420.23,76.91 L420.61,76.66 L420.99,76.43 L421.37,76.24 L421.76,76.07 L422.15,75.93 L422.54,75.82 L422.94,75.74 L423.34,75.68 L423.74,75.66 L424.15,75.67 L424.55,75.70 L424.96,75.76 L425.38,75.85 L425.79,75.97 L426.21,76.12 L426.63,76.29 L427.05,76.49 L427.47,76.72 L427.90,76.98 L428.32,77.26 L428.75,77.59 L429.19,77.99 L429.63,78.54 L430.06,78.90 L430.48,79.21 L430.90,79.49 L431.32,79.73 L431.74,79.96 L432.15,80.15 L432.56,80.32 L432.97,80.46 L433.38,80.58 L433.78,80.67 L434.18,80.73 L434.58,80.76 L434.98,80.77 L435.38,80.74 L435.77,80.69 L436.17,80.61 L436.56,80.50 L436.95,80.36 L437.34,80.19 L437.73,80.00 L438.11,79.78 L438.50,79.53 L438.88,79.26 L439.27,78.96 L439.65,78.64 L440.03,78.28 L440.40,77.86 L440.77,77.27 L441.14,76.80 L441.52,76.41 L441.90,76.06 L442.28,75.75 L442.67,75.46 L443.06,75.20 L443.45,74.97 L443.84,74.76 L444.23,74.58 L444.62,74.43 L445.02,74.30 L445.41,74.21 L445.81,74.14 L446.21,74.10 L446.61,74.10 L447.02,74.12 L447.42,74.17 L447.83,74.25 L448.23,74.35 L448.64,74.49 L449.05,74.65 L449.46,74.84 L449.87,75.05 L450.29,75.29 L450.70,75.56 L451.11,75.86 L451.53,76.20 L451.95,76.61 L452.38,77.18 L452.80,77.56 L453.21,77.88 L453.62,78.17 L454.04,78.43 L454.45,78.67 L454.85,78.87 L455.26,79.06 L455.67,79.21 L456.07,79.34 L456.48,79.44 L456.88,79.51 L457.28,79.56 L457.68,79.57 L458.08,79.56 L458.48,79.52 L458.87,79.44 L459.27,79.34 L459.66,79.22 L460.05,79.06 L460.44,78.88 L460.84,78.67 L461.23,78.44 L461.61,78.17 L462.00,77.89 L462.39,77.57 L462.78,77.22 L463.17,76.83 L463.55,76.25 L463.93,75.78 L464.33,75.40 L464.72,75.06 L465.11,74.76 L465.51,74.48 L465.91,74.23 L466.30,74.01 L466.70,73.82 L467.10,73.65 L467.50,73.51 L467.90,73.40 L468.31,73.32 L468.71,73.26 L469.11,73.24 L469.51,73.25 L469.91,73.28 L470.32,73.35 L470.72,73.44 L471.12,73.56 L471.52,73.71 L471.93,73.88 L472.33,74.09 L472.73,74.31 L473.14,74.57 L473.54,74.85 L473.95,75.17 L474.35,75.52 L474.75,75.95 L475.15,76.54 L475.55,76.94 L475.94,77.29 L476.34,77.60 L476.74,77.88" fill="none" stroke="#7a7a7a" stroke-width="1.15"/>
<path d="M261.31,112.56a0.65,0.65 0 1 0 1.3,0a0.65,0.65 0 1 0 -1.3,0M271.85,108.75a0.65,0.65 0 1 0 1.3,0a0.65,0.65 0 1 0 -1.3,0M282.89,105.20a0.65,0.65 0 1 0 1.3,0a0.65,0.65 0 1 0 -1.3,0M293.64,102.07a0.65,0.65 0 1 0 1.3,0a0.65,0.65 0 1 0 -1.3,0M304.90,99.27a0.65,0.65 0 1 0 1.3,0a0.65,0.65 0 1 0 -1.3,0M315.78,96.61a0.65,0.65 0 1 0 1.3,0a0.65,0.65 0 1 0 -1.3,0M327.04,93.84a0.65,0.65 0 1 0 1.3,0a0.65,0.65 0 1 0 -1.3,0M338.37,91.34a0.65,0.65 0 1 0 1.3,0a0.65,0.65 0 1 0 -1.3,0M349.36,89.20a0.65,0.65 0 1 0 1.3,0a0.65,0.65 0 1 0 -1.3,0M360.78,87.13a0.65,0.65 0 1 0 1.3,0a0.65,0.65 0 1 0 -1.3,0M371.79,85.10a0.65,0.65 0 1 0 1.3,0a0.65,0.65 0 1 0 -1.3,0M383.24,83.22a0.65,0.65 0 1 0 1.3,0a0.65,0.65 0 1 0 -1.3,0M394.35,81.80a0.65,0.65 0 1 0 1.3,0a0.65,0.65 0 1 0 -1.3,0M405.87,80.49a0.65,0.65 0 1 0 1.3,0a0.65,0.65 0 1 0 -1.3,0M417.00,79.26a0.65,0.65 0 1 0 1.3,0a0.65,0.65 0 1 0 -1.3,0M428.55,78.18a0.65,0.65 0 1 0 1.3,0a0.65,0.65 0 1 0 -1.3,0M439.73,77.43a0.65,0.65 0 1 0 1.3,0a0.65,0.65 0 1 0 -1.3,0M451.31,76.83a0.65,0.65 0 1 0 1.3,0a0.65,0.65 0 1 0 -1.3,0M462.50,76.37a0.65,0.65 0 1 0 1.3,0a0.65,0.65 0 1 0 -1.3,0M474.10,76.19a0.65,0.65 0 1 0 1.3,0a0.65,0.65 0 1 0 -1.3,0" fill="#4a4a4a"/>
<path d="M248.00,119.90 L248.40,119.67 L248.80,119.48 L249.20,119.34 L249.60,119.26 L250.00,119.24 L250.40,119.30 L250.80,119.45 L251.20,119.72 L251.60,120.22 L252.00,120.65 L252.40,120.99 L252.80,121.29 L253.20,121.57 L253.60,121.82 L254.00,122.04 L254.40,122.24 L254.80,122.42 L255.20,122.57 L255.60,122.69 L256.00,122.78 L256.40,122.85 L256.80,122.89 L257.20,122.90 L257.60,122.88 L258.00,122.84 L258.40,122.77 L258.80,122.67 L259.20,122.54 L259.60,122.39 L260.00,122.21 L260.40,122.00 L260.80,121.77 L261.20,121.52 L261.60,121.24 L262.00,120.93 L262.40,120.58 L262.80,120.17 L263.20,119.59 L263.60,119.18 L264.00,118.84 L264.40,118.53 L264.80,118.25 L265.20,118.00 L265.60,117.77 L266.00,117.57 L266.40,117.40 L266.80,117.25 L267.20,117.12 L267.60,117.02 L268.00,116.96 L268.40,116.91 L268.80,116.90 L269.20,116.91 L269.60,116.96 L270.00,117.03 L270.40,117.12 L270.80,117.25 L271.20,117.40 L271.60,117.58 L272.00,117.78 L272.40,118.01 L272.80,118.26 L273.20,118.54 L273.60,118.85 L274.00,119.19 L274.40,119.59 L274.80,120.17 L275.20,120.58 L275.60,120.93 L276.00,121.24 L276.40,121.52 L276.80,121.78 L277.20,122.01 L277.60,122.21 L278.00,122.39 L278.40,122.54 L278.80,122.67 L279.20,122.77 L279.60,122.84 L280.00,122.88 L280.40,122.90 L280.80,122.89 L281.20,122.85 L281.60,122.78 L282.00,122.69 L282.40,122.56 L282.80,122.42 L283.20,122.24 L283.60,122.04 L284.00,121.81 L284.40,121.56 L284.80,121.29 L285.20,120.98 L285.60,120.64 L286.00,120.24 L286.40,119.67 L286.80,119.25 L287.20,118.90 L287.60,118.58 L288.00,118.30 L288.40,118.04 L288.80,117.81 L289.20,117.61 L289.60,117.42 L290.00,117.27 L290.40,117.14 L290.80,117.04 L291.20,116.97 L291.60,116.92 L292.00,116.90 L292.40,116.91 L292.80,116.95 L293.20,117.01 L293.60,117.10 L294.00,117.22 L294.40,117.37 L294.80,117.54 L295.20,117.74 L295.60,117.97 L296.00,118.21 L296.40,118.49 L296.80,118.79 L297.20,119.13 L297.60,119.52 L298.00,120.09 L298.40,120.52 L298.80,120.87 L299.20,121.19 L299.60,121.48 L300.00,121.74 L300.40,121.97 L300.80,122.18 L301.20,122.36 L301.60,122.52 L302.00,122.65 L302.40,122.75 L302.80,122.83 L303.20,122.88 L303.60,122.90 L304.00,122.89 L304.40,122.86 L304.80,122.79 L305.20,122.70 L305.60,122.59 L306.00,122.44 L306.40,122.27 L306.80,122.08 L307.20,121.85 L307.60,121.61 L308.00,121.34 L308.40,121.04 L308.80,120.70 L309.20,120.32 L309.60,119.76 L310.00,119.31 L310.40,118.95 L310.80,118.63 L311.20,118.35 L311.60,118.09 L312.00,117.85 L312.40,117.64 L312.80,117.45 L313.20,117.29 L313.60,117.16 L314.00,117.05 L314.40,116.98 L314.80,116.92 L315.20,116.90 L315.60,116.91 L316.00,116.94 L316.40,117.00 L316.80,117.09 L317.20,117.20 L317.60,117.34 L318.00,117.51 L318.40,117.71 L318.80,117.93 L319.20,118.17 L319.60,118.44 L320.00,118.74 L320.40,119.07 L320.80,119.45 L321.20,120.00 L321.60,120.45 L322.00,120.82 L322.40,121.14 L322.80,121.43 L323.20,121.69 L323.60,121.93 L324.00,122.14 L324.40,122.33 L324.80,122.49 L325.20,122.63 L325.60,122.74 L326.00,122.82 L326.40,122.87 L326.80,122.90 L327.20,122.90 L327.60,122.86 L328.00,122.81 L328.40,122.72 L328.80,122.61 L329.20,122.47 L329.60,122.30 L330.00,122.11 L330.40,121.89 L330.80,121.65 L331.20,121.38 L331.60,121.09 L332.00,120.76 L332.40,120.39 L332.80,119.86 L333.20,119.38 L333.60,119.01 L334.00,118.69 L334.40,118.39 L334.80,118.13 L335.20,117.89 L335.60,117.67 L336.00,117.48 L336.40,117.32 L336.80,117.18 L337.20,117.07 L337.60,116.99 L338.00,116.93 L338.40,116.90 L338.80,116.90 L339.20,116.93 L339.60,116.99 L340.00,117.07 L340.40,117.18 L340.80,117.32 L341.20,117.48 L341.60,117.67 L342.00,117.89 L342.40,118.13 L342.80,118.39 L343.20,118.69 L343.60,119.01 L344.00,119.38 L344.40,119.86 L344.80,120.39 L345.20,120.76 L345.60,121.09 L346.00,121.38 L346.40,121.65 L346.80,121.89 L347.20,122.11 L347.60,122.30 L348.00,122.47 L348.40,122.61 L348.80,122.72 L349.20,122.81 L349.60,122.86 L350.00,122.90 L350.40,122.90 L350.80,122.87 L351.20,122.82 L351.60,122.74 L352.00,122.63 L352.40,122.49 L352.80,122.33 L353.20,122.15 L353.60,121.93 L354.00,121.69 L354.40,121.43 L354.80,121.14 L355.20,120.82 L355.60,120.46 L356.00,120.00 L356.40,119.45 L356.80,119.07 L357.20,118.74 L357.60,118.44 L358.00,118.17 L358.40,117.93 L358.80,117.71 L359.20,117.51 L359.60,117.35 L360.00,117.20 L360.40,117.09 L360.80,117.00 L361.20,116.94 L361.60,116.91 L362.00,116.90 L362.40,116.92 L362.80,116.98 L363.20,117.05 L363.60,117.16 L364.00,117.29 L364.40,117.45 L364.80,117.64 L365.20,117.85 L365.60,118.08 L366.00,118.35 L366.40,118.63 L366.80,118.95 L367.20,119.31 L367.60,119.75 L368.00,120.32 L368.40,120.70 L368.80,121.03 L369.20,121.33 L369.60,121.61 L370.00,121.85 L370.40,122.08 L370.80,122.27 L371.20,122.44 L371.60,122.59 L372.00,122.70 L372.40,122.79 L372.80,122.86 L373.20,122.89 L373.60,122.90 L374.00,122.88 L374.40,122.83 L374.80,122.75 L375.20,122.65 L375.60,122.52 L376.00,122.36 L376.40,122.18 L376.80,121.97 L377.20,121.74 L377.60,121.48 L378.00,121.19 L378.40,120.88 L378.80,120.52 L379.20,120.09 L379.60,119.52 L380.00,119.13 L380.40,118.79 L380.80,118.49 L381.20,118.22 L381.60,117.97 L382.00,117.74 L382.40,117.54 L382.80,117.37 L383.20,117.23 L383.60,117.11 L384.00,117.01 L384.40,116.95 L384.80,116.91 L385.20,116.90 L385.60,116.92 L386.00,116.97 L386.40,117.04 L386.80,117.14 L387.20,117.27 L387.60,117.42 L388.00,117.60 L388.40,117.81 L388.80,118.04 L389.20,118.30 L389.60,118.58 L390.00,118.90 L390.40,119.25 L390.80,119.66 L391.20,120.24 L391.60,120.64 L392.00,120.98 L392.40,121.29 L392.80,121.56 L393.20,121.81 L393.60,122.04 L394.00,122.24 L394.40,122.41 L394.80,122.56 L395.20,122.69 L395.60,122.78 L396.00,122.85 L396.40,122.89 L396.80,122.90 L397.20,122.88 L397.60,122.84 L398.00,122.77 L398.40,122.67 L398.80,122.54 L399.20,122.39 L399.60,122.21 L400.00,122.01 L400.40,121.78 L400.80,121.52 L401.20,121.24 L401.60,120.93 L402.00,120.59 L402.40,120.18 L402.80,119.60" fill="none" stroke="#7a7a7a" stroke-width="1.15"/>
<path d="M248.00,119.90 L248.40,120.13 L248.80,120.32 L249.20,120.46 L249.60,120.54 L250.00,120.56 L250.40,120.50 L250.80,120.35 L251.20,120.08 L251.60,119.58 L252.00,119.15 L252.40,118.81 L252.80,118.51 L253.20,118.23 L253.60,117.98 L254.00,117.76 L254.40,117.56 L254.80,117.38 L255.20,117.23 L255.60,117.11 L256.00,117.02 L256.40,116.95 L256.80,116.91 L257.20,116.90 L257.60,116.92 L258.00,116.96 L258.40,117.03 L258.80,117.13 L259.20,117.26 L259.60,117.41 L260.00,117.59 L260.40,117.80 L260.80,118.03 L261.20,118.28 L261.60,118.56 L262.00,118.87 L262.40,119.22 L262.80,119.63 L263.20,120.21 L263.60,120.62 L264.00,120.96 L264.40,121.27 L264.80,121.55 L265.20,121.80 L265.60,122.03 L266.00,122.23 L266.40,122.40 L266.80,122.55 L267.20,122.68 L267.60,122.78 L268.00,122.84 L268.40,122.89 L268.80,122.90 L269.20,122.89 L269.60,122.84 L270.00,122.77 L270.40,122.68 L270.80,122.55 L271.20,122.40 L271.60,122.22 L272.00,122.02 L272.40,121.79 L272.80,121.54 L273.20,121.26 L273.60,120.95 L274.00,120.61 L274.40,120.21 L274.80,119.63 L275.20,119.22 L275.60,118.87 L276.00,118.56 L276.40,118.28 L276.80,118.02 L277.20,117.79 L277.60,117.59 L278.00,117.41 L278.40,117.26 L278.80,117.13 L279.20,117.03 L279.60,116.96 L280.00,116.92 L280.40,116.90 L280.80,116.91 L281.20,116.95 L281.60,117.02 L282.00,117.11 L282.40,117.24 L282.80,117.38 L283.20,117.56 L283.60,117.76 L284.00,117.99 L284.40,118.24 L284.80,118.51 L285.20,118.82 L285.60,119.16 L286.00,119.56 L286.40,120.13 L286.80,120.55 L287.20,120.90 L287.60,121.22 L288.00,121.50 L288.40,121.76 L288.80,121.99 L289.20,122.19 L289.60,122.38 L290.00,122.53 L290.40,122.66 L290.80,122.76 L291.20,122.83 L291.60,122.88 L292.00,122.90 L292.40,122.89 L292.80,122.85 L293.20,122.79 L293.60,122.70 L294.00,122.58 L294.40,122.43 L294.80,122.26 L295.20,122.06 L295.60,121.83 L296.00,121.59 L296.40,121.31 L296.80,121.01 L297.20,120.67 L297.60,120.28 L298.00,119.71 L298.40,119.28 L298.80,118.93 L299.20,118.61 L299.60,118.32 L300.00,118.06 L300.40,117.83 L300.80,117.62 L301.20,117.44 L301.60,117.28 L302.00,117.15 L302.40,117.05 L302.80,116.97 L303.20,116.92 L303.60,116.90 L304.00,116.91 L304.40,116.94 L304.80,117.01 L305.20,117.10 L305.60,117.21 L306.00,117.36 L306.40,117.53 L306.80,117.72 L307.20,117.95 L307.60,118.19 L308.00,118.46 L308.40,118.76 L308.80,119.10 L309.20,119.48 L309.60,120.04 L310.00,120.49 L310.40,120.85 L310.80,121.17 L311.20,121.45 L311.60,121.71 L312.00,121.95 L312.40,122.16 L312.80,122.35 L313.20,122.51 L313.60,122.64 L314.00,122.75 L314.40,122.82 L314.80,122.88 L315.20,122.90 L315.60,122.89 L316.00,122.86 L316.40,122.80 L316.80,122.71 L317.20,122.60 L317.60,122.46 L318.00,122.29 L318.40,122.09 L318.80,121.87 L319.20,121.63 L319.60,121.36 L320.00,121.06 L320.40,120.73 L320.80,120.35 L321.20,119.80 L321.60,119.35 L322.00,118.98 L322.40,118.66 L322.80,118.37 L323.20,118.11 L323.60,117.87 L324.00,117.66 L324.40,117.47 L324.80,117.31 L325.20,117.17 L325.60,117.06 L326.00,116.98 L326.40,116.93 L326.80,116.90 L327.20,116.90 L327.60,116.94 L328.00,116.99 L328.40,117.08 L328.80,117.19 L329.20,117.33 L329.60,117.50 L330.00,117.69 L330.40,117.91 L330.80,118.15 L331.20,118.42 L331.60,118.71 L332.00,119.04 L332.40,119.41 L332.80,119.94 L333.20,120.42 L333.60,120.79 L334.00,121.11 L334.40,121.41 L334.80,121.67 L335.20,121.91 L335.60,122.13 L336.00,122.32 L336.40,122.48 L336.80,122.62 L337.20,122.73 L337.60,122.81 L338.00,122.87 L338.40,122.90 L338.80,122.90 L339.20,122.87 L339.60,122.81 L340.00,122.73 L340.40,122.62 L340.80,122.48 L341.20,122.32 L341.60,122.13 L342.00,121.91 L342.40,121.67 L342.80,121.41 L343.20,121.11 L343.60,120.79 L344.00,120.42 L344.40,119.94 L344.80,119.41 L345.20,119.04 L345.60,118.71 L346.00,118.42 L346.40,118.15 L346.80,117.91 L347.20,117.69 L347.60,117.50 L348.00,117.33 L348.40,117.19 L348.80,117.08 L349.20,116.99 L349.60,116.94 L350.00,116.90 L350.40,116.90 L350.80,116.93 L351.20,116.98 L351.60,117.06 L352.00,117.17 L352.40,117.31 L352.80,117.47 L353.20,117.65 L353.60,117.87 L354.00,118.11 L354.40,118.37 L354.80,118.66 L355.20,118.98 L355.60,119.34 L356.00,119.80 L356.40,120.35 L356.80,120.73 L357.20,121.06 L357.60,121.36 L358.00,121.63 L358.40,121.87 L358.80,122.09 L359.20,122.29 L359.60,122.45 L360.00,122.60 L360.40,122.71 L360.80,122.80 L361.20,122.86 L361.60,122.89 L362.00,122.90 L362.40,122.88 L362.80,122.82 L363.20,122.75 L363.60,122.64 L364.00,122.51 L364.40,122.35 L364.80,122.16 L365.20,121.95 L365.60,121.72 L366.00,121.45 L366.40,121.17 L366.80,120.85 L367.20,120.49 L367.60,120.05 L368.00,119.48 L368.40,119.10 L368.80,118.77 L369.20,118.47 L369.60,118.19 L370.00,117.95 L370.40,117.72 L370.80,117.53 L371.20,117.36 L371.60,117.21 L372.00,117.10 L372.40,117.01 L372.80,116.94 L373.20,116.91 L373.60,116.90 L374.00,116.92 L374.40,116.97 L374.80,117.05 L375.20,117.15 L375.60,117.28 L376.00,117.44 L376.40,117.62 L376.80,117.83 L377.20,118.06 L377.60,118.32 L378.00,118.61 L378.40,118.92 L378.80,119.28 L379.20,119.71 L379.60,120.28 L380.00,120.67 L380.40,121.01 L380.80,121.31 L381.20,121.58 L381.60,121.83 L382.00,122.06 L382.40,122.26 L382.80,122.43 L383.20,122.57 L383.60,122.69 L384.00,122.79 L384.40,122.85 L384.80,122.89 L385.20,122.90 L385.60,122.88 L386.00,122.83 L386.40,122.76 L386.80,122.66 L387.20,122.53 L387.60,122.38 L388.00,122.20 L388.40,121.99 L388.80,121.76 L389.20,121.50 L389.60,121.22 L390.00,120.90 L390.40,120.55 L390.80,120.14 L391.20,119.56 L391.60,119.16 L392.00,118.82 L392.40,118.51 L392.80,118.24 L393.20,117.99 L393.60,117.76 L394.00,117.56 L394.40,117.39 L394.80,117.24 L395.20,117.11 L395.60,117.02 L396.00,116.95 L396.40,116.91 L396.80,116.90 L397.20,116.92 L397.60,116.96 L398.00,117.03 L398.40,117.13 L398.80,117.26 L399.20,117.41 L399.60,117.59 L400.00,117.79 L400.40,118.02 L400.80,118.28 L401.20,118.56 L401.60,118.87 L402.00,119.21 L402.40,119.62 L402.80,120.20" fill="none" stroke="#7a7a7a" stroke-width="1.15"/>
<path d="M250.55,119.90a0.65,0.65 0 1 0 1.3,0a0.65,0.65 0 1 0 -1.3,0M262.15,119.90a0.65,0.65 0 1 0 1.3,0a0.65,0.65 0 1 0 -1.3,0M273.75,119.90a0.65,0.65 0 1 0 1.3,0a0.65,0.65 0 1 0 -1.3,0M285.35,119.90a0.65,0.65 0 1 0 1.3,0a0.65,0.65 0 1 0 -1.3,0M296.95,119.90a0.65,0.65 0 1 0 1.3,0a0.65,0.65 0 1 0 -1.3,0M308.55,119.90a0.65,0.65 0 1 0 1.3,0a0.65,0.65 0 1 0 -1.3,0M320.15,119.90a0.65,0.65 0 1 0 1.3,0a0.65,0.65 0 1 0 -1.3,0M331.75,119.90a0.65,0.65 0 1 0 1.3,0a0.65,0.65 0 1 0 -1.3,0M343.75,119.90a0.65,0.65 0 1 0 1.3,0a0.65,0.65 0 1 0 -1.3,0M355.35,119.90a0.65,0.65 0 1 0 1.3,0a0.65,0.65 0 1 0 -1.3,0M366.95,119.90a0.65,0.65 0 1 0 1.3,0a0.65,0.65 0 1 0 -1.3,0M378.55,119.90a0.65,0.65 0 1 0 1.3,0a0.65,0.65 0 1 0 -1.3,0M390.15,119.90a0.65,0.65 0 1 0 1.3,0a0.65,0.65 0 1 0 -1.3,0M401.75,119.90a0.65,0.65 0 1 0 1.3,0a0.65,0.65 0 1 0 -1.3,0" fill="#4a4a4a"/>
<path d="M249.00,121.20 L249.32,121.48 L249.66,121.71 L250.03,121.87 L250.43,121.95 L250.88,121.88 L251.36,121.76 L251.84,121.61 L252.34,121.42 L252.86,121.20 L253.38,120.95 L253.84,120.87 L254.29,120.82 L254.73,120.78 L255.16,120.78 L255.58,120.79 L256.00,120.84 L256.40,120.91 L256.79,121.00 L257.17,121.12 L257.54,121.27 L257.89,121.45 L258.24,121.65 L258.58,121.88 L258.91,122.13 L259.23,122.41 L259.54,122.71 L259.84,123.04 L260.14,123.39 L260.42,123.77 L260.70,124.17 L260.96,124.60 L261.22,125.06 L261.45,125.58 L261.62,126.27 L261.85,126.80 L262.11,127.27 L262.37,127.71 L262.65,128.11 L262.94,128.49 L263.23,128.85 L263.54,129.18 L263.85,129.49 L264.18,129.77 L264.51,130.03 L264.86,130.26 L265.21,130.46 L265.58,130.64 L265.95,130.79 L266.34,130.91 L266.74,131.00 L267.14,131.07 L267.56,131.10 L267.99,131.12 L268.42,131.10 L268.86,131.06 L269.32,130.99 L269.77,130.90 L270.24,130.78 L270.72,130.63 L271.20,130.46 L271.70,130.24 L272.21,129.94 L272.77,129.52 L273.27,129.26 L273.75,129.06 L274.22,128.89 L274.67,128.74 L275.12,128.61 L275.57,128.51 L276.00,128.44 L276.43,128.39 L276.85,128.36 L277.26,128.36 L277.66,128.38 L278.06,128.43 L278.45,128.51 L278.83,128.62 L279.20,128.75 L279.57,128.91 L279.93,129.10 L280.28,129.31 L280.63,129.55 L280.97,129.82 L281.30,130.11 L281.63,130.43 L281.95,130.78 L282.26,131.14 L282.57,131.54 L282.87,131.97 L283.15,132.44 L283.39,133.08 L283.64,133.64 L283.93,134.10 L284.22,134.53 L284.53,134.92 L284.84,135.29 L285.16,135.63 L285.49,135.94 L285.83,136.23 L286.17,136.50 L286.52,136.73 L286.88,136.94 L287.24,137.13 L287.62,137.28 L288.00,137.41 L288.38,137.51 L288.78,137.58 L289.18,137.63 L289.59,137.65 L290.01,137.64 L290.44,137.60 L290.87,137.54 L291.31,137.45 L291.75,137.34 L292.21,137.20 L292.67,137.04 L293.13,136.84 L293.61,136.62 L294.11,136.34 L294.65,135.88 L295.15,135.58 L295.63,135.35 L296.10,135.16 L296.56,134.99 L297.02,134.85 L297.47,134.74 L297.91,134.65 L298.35,134.59 L298.77,134.55 L299.19,134.54 L299.61,134.56 L300.01,134.60 L300.40,134.68 L300.79,134.77 L301.17,134.90 L301.54,135.05 L301.90,135.23 L302.26,135.44 L302.60,135.67 L302.94,135.93 L303.28,136.22 L303.60,136.52 L303.92,136.86 L304.23,137.22 L304.54,137.60 L304.84,138.01 L305.13,138.47 L305.40,139.00 L305.64,139.65 L305.93,140.13 L306.24,140.56 L306.55,140.96 L306.87,141.33 L307.20,141.67 L307.53,141.98 L307.87,142.27 L308.22,142.54 L308.58,142.78 L308.94,142.99 L309.31,143.17 L309.68,143.32 L310.06,143.45 L310.45,143.55 L310.85,143.62 L311.25,143.66 L311.66,143.68 L312.08,143.67 L312.50,143.63 L312.93,143.56 L313.36,143.47 L313.80,143.35 L314.25,143.21 L314.70,143.04 L315.16,142.85 L315.63,142.62 L316.11,142.35 L316.63,141.91 L317.13,141.55 L317.61,141.29 L318.08,141.07 L318.54,140.88 L318.99,140.72 L319.43,140.58 L319.87,140.47 L320.31,140.38 L320.73,140.32 L321.15,140.29 L321.57,140.28 L321.97,140.30 L322.37,140.35 L322.77,140.42 L323.15,140.52 L323.53,140.66 L323.90,140.81 L324.27,141.00 L324.63,141.21 L324.98,141.45 L325.33,141.72 L325.67,142.01 L326.00,142.33 L326.33,142.67 L326.65,143.03 L326.96,143.43 L327.27,143.86 L327.56,144.35 L327.81,145.01 L328.10,145.51 L328.41,145.95 L328.72,146.35 L329.04,146.72 L329.37,147.07 L329.70,147.39 L330.04,147.68 L330.39,147.95 L330.74,148.20 L331.10,148.41 L331.47,148.60 L331.84,148.76 L332.22,148.90 L332.61,149.00 L333.01,149.08 L333.41,149.13 L333.82,149.15 L334.23,149.15 L334.66,149.11 L335.08,149.05 L335.52,148.96 L335.96,148.85 L336.41,148.71 L336.86,148.54 L337.31,148.35 L337.78,148.13 L338.25,147.86 L338.73,147.52 L339.25,147.04 L339.72,146.75 L340.18,146.50 L340.64,146.29 L341.08,146.10 L341.52,145.94 L341.96,145.80 L342.39,145.69 L342.81,145.61 L343.23,145.55 L343.64,145.52 L344.05,145.51 L344.45,145.53 L344.85,145.58 L345.24,145.66 L345.62,145.76 L346.00,145.90 L346.37,146.06 L346.74,146.25 L347.10,146.46 L347.46,146.70 L347.82,146.97 L348.17,147.26 L348.51,147.58 L348.85,147.92 L349.18,148.29 L349.51,148.70 L349.83,149.15 L350.12,149.76 L350.42,150.30 L350.74,150.74 L351.08,151.14 L351.42,151.50 L351.76,151.84 L352.11,152.15 L352.46,152.43 L352.82,152.69 L353.19,152.92 L353.56,153.13 L353.94,153.31 L354.32,153.46 L354.70,153.58 L355.09,153.67 L355.49,153.74 L355.89,153.78 L356.30,153.78 L356.71,153.76 L357.12,153.72 L357.54,153.64 L357.97,153.54 L358.40,153.41 L358.83,153.26 L359.27,153.08 L359.72,152.88 L360.17,152.64 L360.62,152.37 L361.09,152.04 L361.59,151.54 L362.05,151.20 L362.51,150.92 L362.96,150.68 L363.40,150.47 L363.84,150.29 L364.27,150.13 L364.70,150.00 L365.13,149.90 L365.55,149.82 L365.96,149.76 L366.37,149.74 L366.78,149.74 L367.18,149.77 L367.57,149.83 L367.96,149.91 L368.35,150.03 L368.73,150.17 L369.10,150.34 L369.47,150.54 L369.84,150.76 L370.20,151.01 L370.56,151.29 L370.91,151.59 L371.26,151.92 L371.61,152.27 L371.94,152.66 L372.28,153.08 L372.60,153.59 L372.89,154.22 L373.22,154.67 L373.56,155.07 L373.90,155.44 L374.25,155.78 L374.60,156.09 L374.95,156.38 L375.32,156.64 L375.68,156.88 L376.05,157.09 L376.43,157.27 L376.81,157.42 L377.19,157.55 L377.58,157.65 L377.98,157.72 L378.38,157.76 L378.78,157.77 L379.19,157.75 L379.61,157.71 L380.03,157.64 L380.45,157.54 L380.88,157.41 L381.31,157.26 L381.75,157.09 L382.19,156.88 L382.63,156.65 L383.08,156.38 L383.54,156.07 L384.02,155.59 L384.49,155.19 L384.94,154.89 L385.39,154.63 L385.83,154.40 L386.26,154.20 L386.69,154.02 L387.12,153.88 L387.55,153.75 L387.96,153.65 L388.38,153.58 L388.79,153.54 L389.19,153.52 L389.59,153.53 L389.99,153.57 L390.38,153.64 L390.77,153.73 L391.15,153.85 L391.53,154.00 L391.90,154.18 L392.27,154.38 L392.64,154.61 L393.00,154.87 L393.36,155.15 L393.72,155.46 L394.08,155.79 L394.43,156.15 L394.78,156.54 L395.13,157.00 L395.45,157.63 L395.79,158.09 L396.15,158.49 L396.51,158.85 L396.88,159.18 L397.25,159.49 L397.62,159.76 L398.00,160.01 L398.38,160.24 L398.76,160.43 L399.15,160.60 L399.54,160.74 L399.93,160.85 L400.33,160.94 L400.73,160.99 L401.13,161.02 L401.54,161.01 L401.95,160.98 L402.36,160.92 L402.77,160.83 L403.19,160.71 L403.60,160.57 L404.02,160.40 L404.45,160.20 L404.87,159.98 L405.30,159.73 L405.73,159.45 L406.16,159.12 L406.60,158.72 L407.05,158.19 L407.49,157.84 L407.92,157.54 L408.34,157.27 L408.76,157.03 L409.18,156.82 L409.60,156.64 L410.01,156.47 L410.42,156.34 L410.83,156.23 L411.24,156.15 L411.64,156.10 L412.04,156.07 L412.44,156.07 L412.84,156.10 L413.23,156.16 L413.63,156.25 L414.02,156.37 L414.41,156.51 L414.79,156.68 L415.18,156.88 L415.56,157.11 L415.94,157.36 L416.32,157.63 L416.70,157.94 L417.07,158.27 L417.45,158.63 L417.81,159.05 L418.17,159.63 L418.53,160.13 L418.90,160.53 L419.27,160.88 L419.65,161.21 L420.03,161.51 L420.41,161.78 L420.79,162.02 L421.17,162.24 L421.56,162.43 L421.95,162.60 L422.34,162.73 L422.73,162.84 L423.13,162.92 L423.53,162.98 L423.93,163.00 L424.33,162.99 L424.73,162.96 L425.14,162.90 L425.55,162.81 L425.96,162.69 L426.37,162.54 L426.79,162.37 L427.20,162.17 L427.62,161.95 L428.04,161.70 L428.46,161.42 L428.89,161.10 L429.32,160.73 L429.76,160.17 L430.19,159.79 L430.62,159.47 L431.04,159.18 L431.46,158.93 L431.87,158.70 L432.29,158.50 L432.70,158.32 L433.11,158.18 L433.52,158.05 L433.93,157.96 L434.34,157.89 L434.74,157.85 L435.14,157.84 L435.54,157.86 L435.94,157.90 L436.33,157.98 L436.72,158.08 L437.12,158.21 L437.51,158.37 L437.89,158.56 L438.28,158.77 L438.66,159.01 L439.04,159.27 L439.42,159.56 L439.80,159.88 L440.18,160.23 L440.55,160.62 L440.92,161.09 L441.28,161.69 L441.66,162.10 L442.03,162.46 L442.41,162.79 L442.79,163.09 L443.17,163.37 L443.56,163.62 L443.94,163.84 L444.33,164.04 L444.72,164.21 L445.12,164.35 L445.51,164.46 L445.91,164.55 L446.30,164.60 L446.70,164.63 L447.11,164.63 L447.51,164.60 L447.92,164.54 L448.33,164.45 L448.74,164.34 L449.15,164.20 L449.56,164.03 L449.97,163.83 L450.39,163.61 L450.81,163.36 L451.22,163.09 L451.64,162.77 L452.06,162.42 L452.49,161.88 L452.92,161.44 L453.34,161.09 L453.75,160.79 L454.16,160.52 L454.58,160.27 L454.99,160.05 L455.39,159.86 L455.80,159.69 L456.21,159.55 L456.61,159.43 L457.01,159.35 L457.41,159.29 L457.81,159.25 L458.21,159.25 L458.61,159.28 L459.01,159.33 L459.40,159.41 L459.80,159.52 L460.19,159.66 L460.58,159.83 L460.97,160.02 L461.37,160.24 L461.76,160.48 L462.14,160.75 L462.53,161.05 L462.92,161.38 L463.31,161.74 L463.69,162.16 L464.07,162.76 L464.45,163.19 L464.84,163.56 L465.23,163.88 L465.62,164.18 L466.02,164.45 L466.41,164.70 L466.80,164.91 L467.20,165.10 L467.60,165.27 L467.99,165.40 L468.39,165.51 L468.79,165.59 L469.19,165.64 L469.59,165.66 L469.99,165.66 L470.39,165.62 L470.79,165.56 L471.20,165.46 L471.60,165.34 L472.00,165.20 L472.40,165.02 L472.81,164.83 L473.21,164.60 L473.62,164.35 L474.03,164.07 L474.44,163.77 L474.85,163.42 L475.27,162.98 L475.69,162.43 L476.10,162.06 L476.51,161.73 L476.92,161.44" fill="none" stroke="#7a7a7a" stroke-width="1.15"/>
<path d="M249.00,121.20 L249.43,121.20 L249.83,121.26 L250.21,121.39 L250.56,121.59 L250.86,121.95 L251.12,122.36 L251.39,122.80 L251.63,123.27 L251.87,123.78 L252.09,124.31 L252.37,124.68 L252.67,125.03 L252.98,125.35 L253.29,125.64 L253.62,125.91 L253.95,126.15 L254.30,126.37 L254.66,126.56 L255.02,126.73 L255.40,126.86 L255.79,126.97 L256.19,127.06 L256.60,127.11 L257.02,127.14 L257.45,127.15 L257.88,127.12 L258.33,127.08 L258.79,127.00 L259.25,126.91 L259.73,126.78 L260.21,126.63 L260.71,126.45 L261.22,126.21 L261.80,125.80 L262.32,125.54 L262.82,125.35 L263.30,125.19 L263.78,125.06 L264.24,124.96 L264.70,124.88 L265.14,124.82 L265.58,124.79 L266.00,124.79 L266.42,124.81 L266.83,124.85 L267.22,124.92 L267.61,125.02 L267.98,125.14 L268.35,125.29 L268.71,125.46 L269.05,125.67 L269.39,125.89 L269.72,126.15 L270.04,126.42 L270.36,126.73 L270.66,127.05 L270.96,127.40 L271.25,127.78 L271.53,128.18 L271.81,128.61 L272.07,129.08 L272.32,129.62 L272.52,130.29 L272.79,130.78 L273.07,131.23 L273.37,131.64 L273.67,132.02 L273.99,132.38 L274.31,132.71 L274.65,133.01 L274.99,133.29 L275.33,133.54 L275.69,133.77 L276.06,133.96 L276.43,134.13 L276.81,134.27 L277.20,134.39 L277.59,134.47 L278.00,134.53 L278.40,134.55 L278.82,134.56 L279.25,134.53 L279.68,134.48 L280.11,134.40 L280.56,134.29 L281.01,134.17 L281.47,134.01 L281.93,133.83 L282.41,133.62 L282.89,133.36 L283.43,132.94 L283.94,132.59 L284.43,132.35 L284.90,132.14 L285.36,131.97 L285.82,131.82 L286.27,131.69 L286.71,131.60 L287.15,131.52 L287.57,131.47 L287.99,131.45 L288.41,131.46 L288.81,131.49 L289.21,131.55 L289.60,131.63 L289.98,131.75 L290.36,131.89 L290.73,132.06 L291.09,132.25 L291.44,132.47 L291.79,132.72 L292.12,133.00 L292.46,133.30 L292.78,133.63 L293.10,133.98 L293.41,134.36 L293.71,134.76 L294.01,135.20 L294.28,135.70 L294.51,136.37 L294.78,136.88 L295.07,137.33 L295.37,137.74 L295.68,138.12 L295.99,138.48 L296.31,138.81 L296.64,139.12 L296.97,139.40 L297.31,139.66 L297.66,139.89 L298.02,140.09 L298.39,140.27 L298.76,140.42 L299.14,140.54 L299.53,140.64 L299.93,140.70 L300.34,140.74 L300.75,140.75 L301.18,140.74 L301.61,140.69 L302.05,140.63 L302.49,140.53 L302.94,140.41 L303.40,140.26 L303.86,140.09 L304.34,139.89 L304.82,139.64 L305.32,139.32 L305.85,138.87 L306.34,138.59 L306.81,138.36 L307.27,138.17 L307.72,138.00 L308.17,137.86 L308.61,137.74 L309.05,137.65 L309.47,137.58 L309.89,137.54 L310.31,137.52 L310.71,137.53 L311.12,137.57 L311.51,137.64 L311.90,137.73 L312.28,137.85 L312.65,138.00 L313.02,138.18 L313.38,138.38 L313.73,138.61 L314.08,138.87 L314.43,139.15 L314.76,139.46 L315.09,139.80 L315.42,140.16 L315.73,140.54 L316.04,140.96 L316.34,141.43 L316.59,142.06 L316.87,142.61 L317.17,143.07 L317.48,143.48 L317.79,143.86 L318.12,144.22 L318.45,144.55 L318.78,144.85 L319.13,145.13 L319.48,145.38 L319.83,145.61 L320.20,145.81 L320.57,145.98 L320.94,146.13 L321.33,146.24 L321.72,146.33 L322.12,146.39 L322.52,146.43 L322.93,146.43 L323.35,146.41 L323.77,146.36 L324.21,146.29 L324.64,146.19 L325.09,146.06 L325.53,145.91 L325.99,145.73 L326.45,145.53 L326.92,145.28 L327.41,144.99 L327.94,144.51 L328.42,144.20 L328.90,143.95 L329.36,143.74 L329.82,143.56 L330.27,143.40 L330.71,143.27 L331.15,143.17 L331.58,143.09 L332.00,143.04 L332.42,143.01 L332.83,143.01 L333.23,143.04 L333.63,143.09 L334.02,143.17 L334.40,143.28 L334.78,143.42 L335.15,143.58 L335.51,143.78 L335.86,143.99 L336.21,144.24 L336.56,144.51 L336.90,144.80 L337.23,145.12 L337.56,145.47 L337.88,145.84 L338.20,146.24 L338.51,146.68 L338.80,147.20 L339.07,147.84 L339.38,148.31 L339.70,148.73 L340.03,149.11 L340.36,149.46 L340.71,149.79 L341.05,150.09 L341.41,150.37 L341.77,150.62 L342.13,150.84 L342.50,151.03 L342.88,151.20 L343.26,151.34 L343.65,151.45 L344.04,151.53 L344.44,151.59 L344.85,151.61 L345.26,151.61 L345.67,151.58 L346.10,151.52 L346.52,151.44 L346.95,151.32 L347.39,151.19 L347.83,151.02 L348.28,150.84 L348.73,150.62 L349.18,150.37 L349.65,150.07 L350.15,149.61 L350.63,149.22 L351.09,148.94 L351.55,148.69 L351.99,148.48 L352.43,148.29 L352.87,148.13 L353.30,147.99 L353.73,147.88 L354.15,147.79 L354.56,147.74 L354.98,147.70 L355.38,147.70 L355.78,147.72 L356.18,147.77 L356.57,147.85 L356.95,147.96 L357.34,148.10 L357.71,148.26 L358.08,148.45 L358.45,148.67 L358.81,148.91 L359.17,149.18 L359.52,149.48 L359.87,149.80 L360.21,150.15 L360.55,150.52 L360.88,150.94 L361.20,151.41 L361.49,152.05 L361.81,152.54 L362.14,152.95 L362.48,153.33 L362.83,153.69 L363.17,154.01 L363.53,154.31 L363.89,154.58 L364.25,154.83 L364.62,155.05 L364.99,155.24 L365.37,155.41 L365.75,155.54 L366.14,155.65 L366.53,155.74 L366.93,155.79 L367.33,155.81 L367.74,155.81 L368.15,155.78 L368.57,155.72 L368.99,155.63 L369.42,155.52 L369.85,155.38 L370.28,155.21 L370.72,155.02 L371.17,154.81 L371.62,154.56 L372.07,154.27 L372.54,153.90 L373.03,153.40 L373.49,153.09 L373.94,152.82 L374.39,152.59 L374.83,152.39 L375.27,152.21 L375.70,152.06 L376.13,151.93 L376.55,151.83 L376.97,151.76 L377.38,151.71 L377.79,151.70 L378.19,151.70 L378.59,151.74 L378.98,151.81 L379.37,151.90 L379.76,152.02 L380.13,152.17 L380.51,152.35 L380.88,152.55 L381.24,152.78 L381.60,153.04 L381.96,153.32 L382.32,153.62 L382.66,153.96 L383.01,154.32 L383.35,154.71 L383.69,155.15 L383.99,155.76 L384.32,156.28 L384.65,156.71 L385.00,157.09 L385.35,157.45 L385.70,157.77 L386.06,158.07 L386.42,158.34 L386.79,158.59 L387.16,158.81 L387.54,159.01 L387.92,159.17 L388.31,159.31 L388.70,159.42 L389.09,159.50 L389.49,159.55 L389.90,159.58 L390.31,159.57 L390.72,159.54 L391.14,159.48 L391.56,159.39 L391.98,159.27 L392.41,159.12 L392.84,158.95 L393.27,158.76 L393.71,158.53 L394.15,158.28 L394.59,157.99 L395.04,157.64 L395.52,157.10 L395.96,156.74 L396.40,156.44 L396.83,156.18 L397.26,155.94 L397.69,155.73 L398.11,155.55 L398.53,155.39 L398.94,155.26 L399.35,155.15 L399.76,155.07 L400.16,155.02 L400.57,154.99 L400.96,154.99 L401.36,155.02 L401.75,155.08 L402.14,155.17 L402.53,155.29 L402.92,155.43 L403.30,155.60 L403.68,155.80 L404.06,156.02 L404.43,156.27 L404.81,156.54 L405.18,156.85 L405.55,157.17 L405.91,157.53 L406.28,157.93 L406.63,158.41 L406.98,159.02 L407.34,159.44 L407.71,159.82 L408.08,160.16 L408.45,160.47 L408.83,160.75 L409.21,161.01 L409.60,161.24 L409.98,161.44 L410.37,161.62 L410.76,161.77 L411.16,161.89 L411.55,161.98 L411.95,162.04 L412.35,162.08 L412.75,162.08 L413.16,162.06 L413.56,162.01 L413.97,161.93 L414.38,161.82 L414.79,161.69 L415.21,161.53 L415.62,161.34 L416.04,161.13 L416.46,160.89 L416.88,160.62 L417.31,160.32 L417.74,159.97 L418.18,159.45 L418.62,159.02 L419.05,158.68 L419.47,158.39 L419.89,158.13 L420.31,157.90 L420.73,157.69 L421.15,157.51 L421.56,157.35 L421.97,157.23 L422.38,157.12 L422.79,157.05 L423.19,157.00 L423.59,156.98 L423.99,156.99 L424.39,157.03 L424.78,157.10 L425.18,157.20 L425.57,157.32 L425.96,157.47 L426.34,157.65 L426.73,157.86 L427.11,158.09 L427.49,158.35 L427.87,158.63 L428.25,158.94 L428.62,159.28 L429.00,159.66 L429.37,160.09 L429.72,160.71 L430.09,161.15 L430.46,161.53 L430.84,161.88 L431.22,162.19 L431.60,162.48 L431.98,162.74 L432.36,162.97 L432.75,163.18 L433.14,163.36 L433.53,163.51 L433.92,163.64 L434.32,163.73 L434.71,163.80 L435.11,163.84 L435.51,163.85 L435.92,163.83 L436.32,163.79 L436.73,163.71 L437.14,163.61 L437.55,163.48 L437.96,163.32 L438.37,163.14 L438.79,162.93 L439.21,162.70 L439.63,162.44 L440.05,162.14 L440.47,161.81 L440.90,161.39 L441.34,160.85 L441.77,160.49 L442.19,160.18 L442.61,159.90 L443.02,159.65 L443.44,159.43 L443.85,159.24 L444.27,159.07 L444.68,158.93 L445.08,158.81 L445.49,158.72 L445.89,158.66 L446.30,158.63 L446.70,158.62 L447.09,158.65 L447.49,158.70 L447.88,158.78 L448.28,158.89 L448.67,159.03 L449.05,159.20 L449.44,159.39 L449.83,159.60 L450.21,159.85 L450.59,160.12 L450.98,160.41 L451.36,160.74 L451.74,161.09 L452.11,161.49 L452.48,162.07 L452.86,162.56 L453.24,162.94 L453.62,163.29 L454.01,163.60 L454.40,163.89 L454.79,164.15 L455.18,164.38 L455.57,164.59 L455.96,164.77 L456.36,164.92 L456.75,165.04 L457.15,165.14 L457.55,165.21 L457.95,165.24 L458.35,165.25 L458.76,165.23 L459.16,165.18 L459.56,165.11 L459.97,165.00 L460.38,164.87 L460.78,164.71 L461.19,164.52 L461.60,164.31 L462.01,164.07 L462.42,163.81 L462.84,163.51 L463.25,163.18 L463.67,162.79 L464.09,162.22 L464.50,161.82 L464.91,161.48 L465.32,161.18 L465.73,160.91 L466.14,160.67 L466.54,160.45 L466.95,160.25 L467.35,160.09 L467.75,159.95 L468.16,159.84 L468.56,159.75 L468.96,159.69 L469.36,159.67 L469.76,159.67 L470.16,159.69 L470.56,159.75 L470.95,159.84 L471.35,159.95 L471.75,160.10 L472.15,160.27 L472.54,160.46 L472.94,160.69 L473.33,160.94 L473.72,161.21 L474.12,161.52 L474.51,161.85 L474.89,162.23 L475.28,162.69 L475.66,163.28 L476.04,163.68 L476.43,164.03 L476.82,164.35" fill="none" stroke="#7a7a7a" stroke-width="1.15"/>
<path d="M260.69,125.89a0.65,0.65 0 1 0 1.3,0a0.65,0.65 0 1 0 -1.3,0M271.62,129.78a0.65,0.65 0 1 0 1.3,0a0.65,0.65 0 1 0 -1.3,0M282.37,132.90a0.65,0.65 0 1 0 1.3,0a0.65,0.65 0 1 0 -1.3,0M293.54,136.02a0.65,0.65 0 1 0 1.3,0a0.65,0.65 0 1 0 -1.3,0M304.71,139.16a0.65,0.65 0 1 0 1.3,0a0.65,0.65 0 1 0 -1.3,0M315.57,141.89a0.65,0.65 0 1 0 1.3,0a0.65,0.65 0 1 0 -1.3,0M326.84,144.67a0.65,0.65 0 1 0 1.3,0a0.65,0.65 0 1 0 -1.3,0M338.12,147.36a0.65,0.65 0 1 0 1.3,0a0.65,0.65 0 1 0 -1.3,0M349.09,149.61a0.65,0.65 0 1 0 1.3,0a0.65,0.65 0 1 0 -1.3,0M360.50,151.73a0.65,0.65 0 1 0 1.3,0a0.65,0.65 0 1 0 -1.3,0M371.92,153.74a0.65,0.65 0 1 0 1.3,0a0.65,0.65 0 1 0 -1.3,0M382.96,155.61a0.65,0.65 0 1 0 1.3,0a0.65,0.65 0 1 0 -1.3,0M394.43,157.32a0.65,0.65 0 1 0 1.3,0a0.65,0.65 0 1 0 -1.3,0M405.97,158.57a0.65,0.65 0 1 0 1.3,0a0.65,0.65 0 1 0 -1.3,0M417.13,159.51a0.65,0.65 0 1 0 1.3,0a0.65,0.65 0 1 0 -1.3,0M428.69,160.41a0.65,0.65 0 1 0 1.3,0a0.65,0.65 0 1 0 -1.3,0M440.26,161.24a0.65,0.65 0 1 0 1.3,0a0.65,0.65 0 1 0 -1.3,0M451.44,161.96a0.65,0.65 0 1 0 1.3,0a0.65,0.65 0 1 0 -1.3,0M463.03,162.48a0.65,0.65 0 1 0 1.3,0a0.65,0.65 0 1 0 -1.3,0M474.62,162.84a0.65,0.65 0 1 0 1.3,0a0.65,0.65 0 1 0 -1.3,0" fill="#4a4a4a"/>
<path d="M249.00,123.20 L249.08,123.65 L249.20,124.07 L249.35,124.46 L249.55,124.81 L249.81,125.12 L250.12,125.38 L250.51,125.58 L251.07,125.64 L251.66,125.68 L252.24,125.73 L252.74,125.84 L253.22,125.97 L253.68,126.11 L254.12,126.27 L254.53,126.45 L254.93,126.64 L255.31,126.85 L255.66,127.07 L255.99,127.31 L256.30,127.57 L256.59,127.84 L256.85,128.13 L257.09,128.44 L257.31,128.76 L257.51,129.10 L257.69,129.46 L257.85,129.84 L257.99,130.23 L258.11,130.64 L258.21,131.06 L258.30,131.51 L258.37,131.97 L258.42,132.44 L258.46,132.94 L258.47,133.47 L258.45,134.04 L258.30,134.73 L258.28,135.31 L258.31,135.85 L258.37,136.36 L258.46,136.84 L258.57,137.32 L258.70,137.77 L258.85,138.20 L259.02,138.61 L259.22,139.01 L259.43,139.38 L259.66,139.73 L259.92,140.06 L260.20,140.37 L260.50,140.66 L260.81,140.92 L261.15,141.16 L261.51,141.38 L261.88,141.57 L262.28,141.74 L262.69,141.89 L263.12,142.02 L263.57,142.12 L264.03,142.21 L264.51,142.27 L265.01,142.31 L265.52,142.32 L266.07,142.30 L266.67,142.20 L267.33,142.03 L267.89,141.99 L268.40,141.98 L268.90,141.99 L269.38,142.02 L269.84,142.07 L270.28,142.14 L270.71,142.23 L271.12,142.34 L271.51,142.46 L271.89,142.61 L272.26,142.78 L272.60,142.97 L272.93,143.18 L273.25,143.42 L273.54,143.68 L273.83,143.96 L274.09,144.26 L274.34,144.59 L274.58,144.94 L274.80,145.31 L275.01,145.70 L275.20,146.11 L275.37,146.55 L275.54,147.01 L275.68,147.49 L275.81,148.00 L275.91,148.55 L275.90,149.25 L275.96,149.84 L276.08,150.37 L276.22,150.86 L276.38,151.33 L276.56,151.78 L276.75,152.21 L276.96,152.61 L277.19,152.99 L277.43,153.35 L277.69,153.69 L277.96,154.00 L278.25,154.29 L278.56,154.56 L278.89,154.80 L279.23,155.02 L279.58,155.21 L279.96,155.38 L280.35,155.53 L280.75,155.65 L281.17,155.74 L281.60,155.82 L282.05,155.87 L282.52,155.90 L282.99,155.91 L283.49,155.89 L283.99,155.85 L284.53,155.78 L285.09,155.65 L285.75,155.38 L286.31,155.27 L286.83,155.20 L287.33,155.16 L287.82,155.15 L288.29,155.16 L288.75,155.19 L289.19,155.24 L289.62,155.31 L290.03,155.41 L290.43,155.52 L290.81,155.66 L291.18,155.82 L291.53,156.01 L291.87,156.22 L292.19,156.46 L292.49,156.71 L292.78,157.00 L293.06,157.30 L293.32,157.63 L293.57,157.98 L293.80,158.36 L294.02,158.75 L294.23,159.17 L294.42,159.61 L294.60,160.07 L294.76,160.56 L294.90,161.09 L294.98,161.73 L295.05,162.38 L295.19,162.91 L295.36,163.40 L295.55,163.87 L295.75,164.30 L295.96,164.72 L296.19,165.12 L296.44,165.49 L296.70,165.84 L296.97,166.16 L297.26,166.47 L297.57,166.74 L297.89,167.00 L298.22,167.22 L298.57,167.43 L298.94,167.60 L299.32,167.75 L299.72,167.88 L300.13,167.98 L300.55,168.06 L300.99,168.11 L301.44,168.14 L301.90,168.15 L302.38,168.13 L302.87,168.08 L303.37,168.01 L303.89,167.91 L304.44,167.75 L305.07,167.43 L305.63,167.25 L306.15,167.13 L306.64,167.04 L307.13,166.98 L307.60,166.94 L308.06,166.92 L308.51,166.92 L308.94,166.95 L309.36,167.00 L309.77,167.07 L310.16,167.16 L310.55,167.28 L310.92,167.42 L311.27,167.59 L311.62,167.79 L311.95,168.01 L312.27,168.25 L312.58,168.52 L312.87,168.82 L313.16,169.14 L313.43,169.48 L313.69,169.85 L313.94,170.24 L314.18,170.65 L314.41,171.09 L314.62,171.56 L314.82,172.06 L314.98,172.63 L315.08,173.33 L315.27,173.85 L315.48,174.33 L315.71,174.78 L315.94,175.21 L316.20,175.61 L316.46,175.99 L316.74,176.34 L317.02,176.67 L317.32,176.97 L317.64,177.25 L317.96,177.51 L318.30,177.73 L318.65,177.93 L319.01,178.11 L319.39,178.26 L319.77,178.38 L320.17,178.48 L320.59,178.55 L321.01,178.59 L321.45,178.61 L321.89,178.61 L322.35,178.58 L322.82,178.52 L323.30,178.45 L323.79,178.34 L324.29,178.21 L324.82,178.03 L325.42,177.69 L325.97,177.44 L326.49,177.28 L326.99,177.15 L327.48,177.05 L327.95,176.98 L328.41,176.93 L328.87,176.91 L329.31,176.91 L329.74,176.93 L330.15,176.98 L330.56,177.05 L330.95,177.14 L331.33,177.27 L331.70,177.41 L332.05,177.59 L332.40,177.78 L332.73,178.01 L333.05,178.26 L333.36,178.53 L333.66,178.83 L333.95,179.15 L334.23,179.49 L334.49,179.86 L334.76,180.26 L335.01,180.67 L335.25,181.11 L335.48,181.59 L335.69,182.13 L335.84,182.82 L336.05,183.35 L336.30,183.83 L336.55,184.27 L336.82,184.68 L337.11,185.06 L337.40,185.43 L337.70,185.76 L338.02,186.07 L338.35,186.36 L338.68,186.62 L339.03,186.85 L339.39,187.05 L339.76,187.23 L340.14,187.38 L340.53,187.50 L340.93,187.59 L341.34,187.66 L341.76,187.70 L342.19,187.71 L342.62,187.69 L343.07,187.64 L343.52,187.57 L343.98,187.48 L344.45,187.35 L344.93,187.20 L345.41,187.02 L345.91,186.79 L346.44,186.47 L346.99,186.07 L347.48,185.83 L347.96,185.63 L348.43,185.46 L348.88,185.31 L349.33,185.19 L349.77,185.09 L350.20,185.02 L350.62,184.97 L351.04,184.94 L351.45,184.94 L351.85,184.97 L352.24,185.02 L352.63,185.10 L353.01,185.21 L353.38,185.35 L353.75,185.51 L354.11,185.70 L354.46,185.92 L354.81,186.16 L355.15,186.43 L355.48,186.72 L355.81,187.04 L356.13,187.39 L356.45,187.76 L356.76,188.16 L357.05,188.59 L357.34,189.08 L357.57,189.74 L357.85,190.26 L358.14,190.72 L358.45,191.13 L358.76,191.51 L359.08,191.87 L359.41,192.20 L359.75,192.50 L360.09,192.78 L360.44,193.03 L360.79,193.26 L361.16,193.46 L361.53,193.63 L361.91,193.77 L362.29,193.89 L362.69,193.97 L363.09,194.03 L363.49,194.06 L363.91,194.06 L364.33,194.04 L364.76,193.99 L365.19,193.91 L365.63,193.80 L366.08,193.67 L366.53,193.52 L366.99,193.34 L367.45,193.12 L367.93,192.87 L368.42,192.55 L368.95,192.08 L369.43,191.79 L369.90,191.55 L370.36,191.34 L370.81,191.17 L371.26,191.02 L371.70,190.89 L372.13,190.79 L372.56,190.71 L372.98,190.66 L373.40,190.64 L373.80,190.64 L374.21,190.67 L374.60,190.73 L374.99,190.82 L375.37,190.93 L375.75,191.08 L376.12,191.25 L376.48,191.44 L376.84,191.67 L377.19,191.92 L377.53,192.19 L377.87,192.49 L378.21,192.82 L378.54,193.17 L378.86,193.55 L379.18,193.96 L379.48,194.42 L379.76,195.03 L380.04,195.59 L380.35,196.04 L380.68,196.45 L381.01,196.82 L381.35,197.17 L381.69,197.49 L382.04,197.78 L382.40,198.05 L382.76,198.29 L383.13,198.50 L383.50,198.69 L383.88,198.85 L384.26,198.98 L384.65,199.08 L385.05,199.15 L385.45,199.20 L385.85,199.21 L386.26,199.20 L386.68,199.16 L387.10,199.09 L387.52,199.00 L387.95,198.88 L388.39,198.74 L388.83,198.57 L389.28,198.37 L389.74,198.15 L390.20,197.89 L390.67,197.57 L391.18,197.07" fill="none" stroke="#7a7a7a" stroke-width="1.15"/>
<path d="M249.00,123.20 L249.43,123.37 L249.82,123.56 L250.17,123.79 L250.48,124.06 L250.73,124.37 L250.92,124.74 L251.03,125.16 L250.97,125.72 L250.89,126.30 L250.80,126.88 L250.80,127.40 L250.82,127.89 L250.86,128.37 L250.92,128.83 L251.01,129.28 L251.11,129.71 L251.24,130.13 L251.39,130.53 L251.56,130.91 L251.76,131.27 L251.98,131.62 L252.22,131.95 L252.49,132.26 L252.78,132.55 L253.09,132.82 L253.43,133.08 L253.79,133.31 L254.17,133.52 L254.57,133.72 L255.00,133.90 L255.44,134.05 L255.91,134.19 L256.39,134.30 L256.90,134.39 L257.43,134.45 L258.00,134.46 L258.71,134.34 L259.28,134.34 L259.81,134.38 L260.31,134.44 L260.79,134.52 L261.24,134.61 L261.68,134.72 L262.10,134.85 L262.51,134.99 L262.89,135.15 L263.26,135.33 L263.61,135.52 L263.94,135.74 L264.25,135.97 L264.54,136.23 L264.81,136.50 L265.07,136.80 L265.31,137.12 L265.53,137.45 L265.74,137.81 L265.93,138.19 L266.10,138.59 L266.26,139.01 L266.40,139.45 L266.53,139.91 L266.64,140.39 L266.73,140.89 L266.80,141.43 L266.81,142.04 L266.76,142.72 L266.82,143.28 L266.93,143.79 L267.05,144.28 L267.20,144.75 L267.36,145.20 L267.55,145.62 L267.75,146.03 L267.97,146.41 L268.21,146.77 L268.47,147.11 L268.74,147.43 L269.03,147.72 L269.35,147.99 L269.67,148.23 L270.02,148.45 L270.38,148.64 L270.76,148.81 L271.15,148.96 L271.56,149.08 L271.99,149.18 L272.43,149.25 L272.89,149.31 L273.36,149.34 L273.85,149.35 L274.35,149.34 L274.87,149.30 L275.42,149.22 L276.08,148.98 L276.67,148.86 L277.20,148.79 L277.71,148.76 L278.20,148.75 L278.68,148.77 L279.14,148.80 L279.59,148.86 L280.02,148.93 L280.43,149.03 L280.83,149.15 L281.21,149.29 L281.58,149.45 L281.93,149.64 L282.27,149.85 L282.59,150.08 L282.90,150.34 L283.19,150.62 L283.46,150.92 L283.72,151.25 L283.96,151.60 L284.19,151.97 L284.41,152.36 L284.61,152.78 L284.79,153.22 L284.97,153.68 L285.12,154.16 L285.26,154.68 L285.36,155.25 L285.37,155.96 L285.48,156.52 L285.62,157.03 L285.78,157.51 L285.97,157.96 L286.16,158.39 L286.37,158.80 L286.60,159.19 L286.84,159.56 L287.10,159.90 L287.37,160.22 L287.66,160.52 L287.96,160.79 L288.28,161.04 L288.62,161.26 L288.97,161.46 L289.34,161.63 L289.72,161.78 L290.12,161.91 L290.53,162.01 L290.96,162.09 L291.40,162.14 L291.86,162.18 L292.33,162.19 L292.81,162.17 L293.31,162.13 L293.82,162.07 L294.36,161.96 L294.97,161.74 L295.58,161.51 L296.12,161.40 L296.63,161.33 L297.13,161.29 L297.61,161.26 L298.07,161.27 L298.53,161.29 L298.96,161.33 L299.39,161.40 L299.80,161.48 L300.19,161.60 L300.58,161.73 L300.94,161.89 L301.29,162.07 L301.63,162.28 L301.95,162.51 L302.26,162.76 L302.55,163.04 L302.83,163.34 L303.10,163.67 L303.36,164.02 L303.60,164.39 L303.83,164.78 L304.05,165.20 L304.25,165.64 L304.45,166.10 L304.62,166.60 L304.78,167.14 L304.84,167.85 L304.99,168.41 L305.17,168.92 L305.38,169.39 L305.59,169.83 L305.83,170.25 L306.08,170.65 L306.34,171.02 L306.61,171.37 L306.90,171.69 L307.20,171.99 L307.51,172.27 L307.84,172.52 L308.18,172.74 L308.54,172.93 L308.90,173.10 L309.28,173.25 L309.68,173.36 L310.08,173.45 L310.50,173.52 L310.93,173.56 L311.38,173.58 L311.83,173.57 L312.29,173.54 L312.77,173.48 L313.26,173.40 L313.76,173.29 L314.28,173.14 L314.84,172.93 L315.45,172.59 L315.98,172.42 L316.49,172.29 L316.98,172.19 L317.46,172.12 L317.93,172.07 L318.38,172.04 L318.82,172.04 L319.26,172.06 L319.68,172.11 L320.08,172.17 L320.48,172.27 L320.86,172.39 L321.23,172.53 L321.59,172.70 L321.94,172.90 L322.28,173.12 L322.60,173.36 L322.91,173.64 L323.21,173.93 L323.50,174.26 L323.77,174.60 L324.04,174.97 L324.30,175.36 L324.54,175.78 L324.78,176.22 L325.00,176.69 L325.20,177.21 L325.33,177.89 L325.49,178.47 L325.70,178.97 L325.93,179.44 L326.17,179.87 L326.42,180.28 L326.68,180.67 L326.95,181.03 L327.24,181.37 L327.53,181.68 L327.84,181.97 L328.17,182.23 L328.50,182.47 L328.85,182.68 L329.21,182.87 L329.58,183.03 L329.96,183.16 L330.36,183.27 L330.77,183.35 L331.19,183.40 L331.62,183.43 L332.07,183.43 L332.52,183.40 L332.98,183.35 L333.46,183.28 L333.94,183.18 L334.44,183.05 L334.94,182.88 L335.47,182.65 L336.07,182.26 L336.59,182.03 L337.09,181.85 L337.57,181.71 L338.05,181.60 L338.51,181.50 L338.96,181.44 L339.40,181.39 L339.83,181.37 L340.25,181.37 L340.66,181.39 L341.06,181.44 L341.45,181.52 L341.84,181.62 L342.21,181.75 L342.57,181.90 L342.92,182.08 L343.26,182.29 L343.60,182.52 L343.92,182.78 L344.24,183.06 L344.55,183.37 L344.85,183.70 L345.15,184.05 L345.44,184.43 L345.72,184.84 L345.99,185.27 L346.26,185.75 L346.49,186.32 L346.70,186.97 L346.97,187.45 L347.26,187.89 L347.55,188.30 L347.86,188.68 L348.18,189.03 L348.51,189.36 L348.84,189.66 L349.19,189.93 L349.54,190.18 L349.90,190.39 L350.27,190.58 L350.65,190.75 L351.03,190.88 L351.42,190.99 L351.82,191.06 L352.23,191.11 L352.64,191.13 L353.06,191.12 L353.48,191.09 L353.92,191.03 L354.35,190.94 L354.80,190.83 L355.25,190.69 L355.71,190.52 L356.17,190.33 L356.65,190.11 L357.14,189.83 L357.67,189.38 L358.17,189.06 L358.65,188.81 L359.12,188.61 L359.58,188.43 L360.03,188.28 L360.47,188.15 L360.91,188.05 L361.34,187.98 L361.77,187.93 L362.19,187.90 L362.60,187.90 L363.00,187.93 L363.40,187.99 L363.79,188.07 L364.17,188.19 L364.54,188.33 L364.91,188.49 L365.27,188.69 L365.63,188.91 L365.97,189.16 L366.32,189.43 L366.65,189.73 L366.98,190.05 L367.31,190.40 L367.62,190.78 L367.93,191.18 L368.24,191.62 L368.52,192.14 L368.77,192.80 L369.07,193.28 L369.38,193.71 L369.69,194.10 L370.02,194.46 L370.35,194.80 L370.69,195.12 L371.03,195.40 L371.38,195.66 L371.74,195.90 L372.10,196.11 L372.47,196.29 L372.85,196.44 L373.23,196.56 L373.62,196.66 L374.02,196.73 L374.42,196.76 L374.84,196.78 L375.25,196.76 L375.67,196.71 L376.10,196.64 L376.54,196.55 L376.98,196.42 L377.42,196.27 L377.87,196.10 L378.33,195.90 L378.79,195.66 L379.27,195.38 L379.78,194.94 L380.27,194.55 L380.74,194.28 L381.20,194.04 L381.65,193.84 L382.09,193.66 L382.53,193.50 L382.96,193.37 L383.39,193.27 L383.81,193.19 L384.23,193.14 L384.64,193.11 L385.04,193.11 L385.44,193.14 L385.84,193.20 L386.23,193.28 L386.61,193.40 L386.99,193.54 L387.37,193.71 L387.73,193.91 L388.10,194.13 L388.46,194.38 L388.81,194.66 L389.16,194.97 L389.50,195.30 L389.83,195.65 L390.16,196.03 L390.49,196.45 L390.80,196.93 L391.08,197.58" fill="none" stroke="#7a7a7a" stroke-width="1.15"/>
<path d="M257.58,134.25a0.65,0.65 0 1 0 1.3,0a0.65,0.65 0 1 0 -1.3,0M266.09,142.12a0.65,0.65 0 1 0 1.3,0a0.65,0.65 0 1 0 -1.3,0M275.02,148.88a0.65,0.65 0 1 0 1.3,0a0.65,0.65 0 1 0 -1.3,0M284.57,155.45a0.65,0.65 0 1 0 1.3,0a0.65,0.65 0 1 0 -1.3,0M294.32,161.74a0.65,0.65 0 1 0 1.3,0a0.65,0.65 0 1 0 -1.3,0M303.96,167.45a0.65,0.65 0 1 0 1.3,0a0.65,0.65 0 1 0 -1.3,0M314.26,172.78a0.65,0.65 0 1 0 1.3,0a0.65,0.65 0 1 0 -1.3,0M324.36,177.62a0.65,0.65 0 1 0 1.3,0a0.65,0.65 0 1 0 -1.3,0M334.93,182.39a0.65,0.65 0 1 0 1.3,0a0.65,0.65 0 1 0 -1.3,0M345.81,186.40a0.65,0.65 0 1 0 1.3,0a0.65,0.65 0 1 0 -1.3,0M356.59,189.45a0.65,0.65 0 1 0 1.3,0a0.65,0.65 0 1 0 -1.3,0M367.82,192.34a0.65,0.65 0 1 0 1.3,0a0.65,0.65 0 1 0 -1.3,0M378.73,194.90a0.65,0.65 0 1 0 1.3,0a0.65,0.65 0 1 0 -1.3,0M390.08,197.25a0.65,0.65 0 1 0 1.3,0a0.65,0.65 0 1 0 -1.3,0" fill="#4a4a4a"/>
<polygon points="247.6,115.6 250.6,117.6 251.2,120.6 249.8,123.6 247.6,124.6" fill="#2a2a2a"/>
<use href="#house" x="0" y="0" width="78" height="31" transform="translate(388,18) scale(1.0)"/>
<use href="#house" x="0" y="0" width="78" height="31" transform="translate(474,54.5) scale(1.0)"/>
<use href="#house" x="0" y="0" width="78" height="31" transform="translate(400.2,97) scale(1.0)"/>
<use href="#house" x="0" y="0" width="78" height="31" transform="translate(473.6,140) scale(1.0)"/>
<use href="#house" x="0" y="0" width="78" height="31" transform="translate(388.6,175.6) scale(1.0)"/>
<line x1="102.4" y1="57.4" x2="118.74" y2="75.99" stroke="#555" stroke-width="1"/>
<polygon points="122.70,80.50 116.50,76.63 118.48,75.69 119.66,73.86" fill="#1a1a1a"/>
<line x1="171" y1="58.7" x2="162.98" y2="102.40" stroke="#555" stroke-width="1"/>
<polygon points="161.90,108.30 161.10,101.04 163.05,102.01 165.23,101.79" fill="#1a1a1a"/>
<line x1="251.6" y1="58.2" x2="239.28" y2="100.54" stroke="#555" stroke-width="1"/>
<polygon points="237.60,106.30 237.54,98.99 239.39,100.15 241.57,100.17" fill="#1a1a1a"/>
<line x1="216.6" y1="157.8" x2="211.69" y2="138.71" stroke="#555" stroke-width="1"/>
<polygon points="210.20,132.90 213.98,139.16 211.79,139.10 209.91,140.20" fill="#1a1a1a"/>
<line x1="270.3" y1="194" x2="304.49" y2="179.19" stroke="#555" stroke-width="1"/>
<polygon points="310.00,176.80 304.41,181.51 304.13,179.34 302.74,177.66" fill="#1a1a1a"/>
<text x="74.3" y="41.5" font-size="12" font-family="'Liberation Sans', sans-serif" fill="#181818" textLength="25.2" lengthAdjust="spacingAndGlyphs">Узел</text>
<text x="31" y="53.5" font-size="12" font-family="'Liberation Sans', sans-serif" fill="#181818" textLength="68.2" lengthAdjust="spacingAndGlyphs">коммутации</text>
<text x="126.6" y="39.7" font-size="12" font-family="'Liberation Sans', sans-serif" fill="#181818" textLength="95.6" lengthAdjust="spacingAndGlyphs">Оптоволоконная</text>
<text x="144.1" y="51.8" font-size="12" font-family="'Liberation Sans', sans-serif" fill="#181818" textLength="64" lengthAdjust="spacingAndGlyphs">магистраль</text>
<text x="239.6" y="40.5" font-size="12" font-family="'Liberation Sans', sans-serif" fill="#181818" textLength="51.3" lengthAdjust="spacingAndGlyphs">Опорный</text>
<text x="250.8" y="52.6" font-size="12" font-family="'Liberation Sans', sans-serif" fill="#181818" textLength="32.4" lengthAdjust="spacingAndGlyphs">шкаф</text>
<text x="195.8" y="170.5" font-size="12" font-family="'Liberation Sans', sans-serif" fill="#181818" textLength="67.7" lengthAdjust="spacingAndGlyphs">Оптический</text>
<text x="211.9" y="182.7" font-size="12" font-family="'Liberation Sans', sans-serif" fill="#181818" textLength="39.0" lengthAdjust="spacingAndGlyphs">кабель</text>
<text x="154.6" y="197.5" font-size="12" font-family="'Liberation Sans', sans-serif" fill="#181818" textLength="110.4" lengthAdjust="spacingAndGlyphs">Медная витая пара</text>
<text x="312.5" y="229.3" font-size="12" font-family="'Liberation Sans', sans-serif" fill="#181818" textLength="15.8" lengthAdjust="spacingAndGlyphs">(a)</text>
<path d="M72,362.9 L89,362.9" fill="none" stroke="#909090" stroke-width="4.2"/>
<path d="M72,362.9 L89,362.9" fill="none" stroke="#eeeeee" stroke-width="1.8"/>
<path d="M103.5,378.2 L103.5,397.7" fill="none" stroke="#909090" stroke-width="4.2"/>
<path d="M103.5,378.2 L103.5,397.7" fill="none" stroke="#eeeeee" stroke-width="1.8"/>
<path d="M176,378.2 L176,397.7" fill="none" stroke="#909090" stroke-width="4.2"/>
<path d="M176,378.2 L176,397.7" fill="none" stroke="#eeeeee" stroke-width="1.8"/>
<path d="M139.5,308.2 L139.5,318.2" fill="none" stroke="#909090" stroke-width="4.2"/>
<path d="M139.5,308.2 L139.5,318.2" fill="none" stroke="#eeeeee" stroke-width="1.8"/>
<path d="M139.4,448.3 L139.4,464.9" fill="none" stroke="#909090" stroke-width="4.2"/>
<path d="M139.4,448.3 L139.4,464.9" fill="none" stroke="#eeeeee" stroke-width="1.8"/>
<path d="M190.5,363.2 L227.5,363.2" fill="none" stroke="#909090" stroke-width="4.2"/>
<path d="M190.5,363.2 L227.5,363.2" fill="none" stroke="#eeeeee" stroke-width="1.8"/>
<path d="M191,356 L227,306" fill="none" stroke="#909090" stroke-width="4.2"/>
<path d="M191,356 L227,306" fill="none" stroke="#eeeeee" stroke-width="1.8"/>
<path d="M154.1,431.9 L227.5,431.9" fill="none" stroke="#909090" stroke-width="4.2"/>
<path d="M154.1,431.9 L227.5,431.9" fill="none" stroke="#eeeeee" stroke-width="1.8"/>
<path d="M131,308.2 L112,347.8" fill="none" stroke="#999999" stroke-width="4.4"/>
<path d="M131,308.2 L112,347.8" fill="none" stroke="#868686" stroke-width="1.4"/>
<path d="M148,308.2 L166.8,347.8" fill="none" stroke="#999999" stroke-width="4.4"/>
<path d="M148,308.2 L166.8,347.8" fill="none" stroke="#868686" stroke-width="1.4"/>
<path d="M119,362 L161,362" fill="none" stroke="#6a6a6a" stroke-width="4.2"/>
<path d="M119,362 L161,362" fill="none" stroke="#a0a0a0" stroke-width="1.4"/>
<path d="M111.5,378.2 L130.2,418.7" fill="none" stroke="#999999" stroke-width="4.4"/>
<path d="M111.5,378.2 L130.2,418.7" fill="none" stroke="#868686" stroke-width="1.4"/>
<path d="M166.5,378.2 L148.6,418.7" fill="none" stroke="#999999" stroke-width="4.4"/>
<path d="M166.5,378.2 L148.6,418.7" fill="none" stroke="#868686" stroke-width="1.4"/>
<rect x="124.5" y="278" width="29.80000000000001" height="30.19999999999999" fill="#fff" stroke="#8a8a8a" stroke-width="1.1"/>
<rect x="88.9" y="348" width="30.099999999999994" height="30.19999999999999" fill="#fff" stroke="#8a8a8a" stroke-width="1.1"/>
<rect x="160.9" y="348" width="29.599999999999994" height="30.19999999999999" fill="#fff" stroke="#8a8a8a" stroke-width="1.1"/>
<rect x="124.5" y="418.7" width="29.599999999999994" height="29.600000000000023" fill="#fff" stroke="#8a8a8a" stroke-width="1.1"/>
<rect x="227.2" y="287.6" width="18.700000000000017" height="19.5" fill="#fff" stroke="#8a8a8a" stroke-width="1.1"/>
<rect x="227.5" y="353.5" width="18.30000000000001" height="18.69999999999999" fill="#fff" stroke="#8a8a8a" stroke-width="1.1"/>
<rect x="227.5" y="422.4" width="18.5" height="19.0" fill="#fff" stroke="#8a8a8a" stroke-width="1.1"/>
<line x1="246" y1="297.8" x2="489.7" y2="297.8" stroke="#8c8c8c" stroke-width="1.3"/>
<line x1="245.8" y1="362.5" x2="523" y2="362.5" stroke="#8c8c8c" stroke-width="1.3"/>
<line x1="246" y1="432.2" x2="502" y2="432.2" stroke="#8c8c8c" stroke-width="1.3"/>
<line x1="296.9" y1="282" x2="296.9" y2="297.8" stroke="#888" stroke-width="1.2"/>
<line x1="373.6" y1="282" x2="373.6" y2="297.8" stroke="#888" stroke-width="1.2"/>
<line x1="449.5" y1="282" x2="449.5" y2="297.8" stroke="#888" stroke-width="1.2"/>
<line x1="300" y1="348" x2="300" y2="362.5" stroke="#888" stroke-width="1.2"/>
<line x1="374.7" y1="348" x2="374.7" y2="362.5" stroke="#888" stroke-width="1.2"/>
<line x1="448.3" y1="348" x2="448.3" y2="362.5" stroke="#888" stroke-width="1.2"/>
<line x1="522.5" y1="348" x2="522.5" y2="362.5" stroke="#888" stroke-width="1.2"/>
<line x1="300.2" y1="417" x2="300.2" y2="432.2" stroke="#888" stroke-width="1.2"/>
<line x1="396.5" y1="417" x2="396.5" y2="432.2" stroke="#888" stroke-width="1.2"/>
<use href="#house" x="0" y="0" width="78" height="31" transform="translate(263.3,258) scale(0.8)"/>
<use href="#house" x="0" y="0" width="78" height="31" transform="translate(339.2,258) scale(0.8)"/>
<use href="#house" x="0" y="0" width="78" height="31" transform="translate(414.6,258) scale(0.8)"/>
<use href="#house" x="0" y="0" width="78" height="31" transform="translate(263.2,324) scale(0.8)"/>
<use href="#house" x="0" y="0" width="78" height="31" transform="translate(339.1,324) scale(0.8)"/>
<use href="#house" x="0" y="0" width="78" height="31" transform="translate(414.9,324) scale(0.8)"/>
<use href="#house" x="0" y="0" width="78" height="31" transform="translate(490.4,324) scale(0.8)"/>
<use href="#house" x="0" y="0" width="78" height="31" transform="translate(263.3,393) scale(0.8)"/>
<use href="#house" x="0" y="0" width="78" height="31" transform="translate(361.3,393) scale(0.8)"/>
<line x1="103" y1="272" x2="118.79" y2="296.93" stroke="#555" stroke-width="1"/>
<polygon points="122.00,302.00 116.48,297.21 118.58,296.59 120.03,294.96" fill="#1a1a1a"/>
<line x1="171.3" y1="292" x2="164.47" y2="326.41" stroke="#555" stroke-width="1"/>
<polygon points="163.30,332.30 162.60,325.03 164.55,326.02 166.72,325.84" fill="#1a1a1a"/>
<line x1="263.1" y1="309.9" x2="255.09" y2="308.34" stroke="#555" stroke-width="1"/>
<polygon points="249.20,307.20 256.47,306.47 255.48,308.42 255.67,310.60" fill="#1a1a1a"/>
<line x1="217.4" y1="389.8" x2="212.86" y2="368.57" stroke="#555" stroke-width="1"/>
<polygon points="211.60,362.70 215.12,369.11 212.94,368.96 211.01,369.98" fill="#1a1a1a"/>
<line x1="202.5" y1="417" x2="189.16" y2="427.82" stroke="#555" stroke-width="1"/>
<polygon points="184.50,431.60 188.61,425.56 189.47,427.57 191.26,428.82" fill="#1a1a1a"/>
<line x1="502.5" y1="286.3" x2="495.55" y2="290.76" stroke="#555" stroke-width="1"/>
<polygon points="490.50,294.00 495.26,288.45 495.89,290.54 497.53,291.99" fill="#1a1a1a"/>
<text x="74.6" y="256.5" font-size="12" font-family="'Liberation Sans', sans-serif" fill="#181818" textLength="24.6" lengthAdjust="spacingAndGlyphs">Узел</text>
<text x="31" y="268.7" font-size="12" font-family="'Liberation Sans', sans-serif" fill="#181818" textLength="68.2" lengthAdjust="spacingAndGlyphs">коммутации</text>
<text x="144.8" y="269.8" font-size="12" font-family="'Liberation Sans', sans-serif" fill="#181818" textLength="95.4" lengthAdjust="spacingAndGlyphs">Оптоволоконная</text>
<text x="162.6" y="282.2" font-size="12" font-family="'Liberation Sans', sans-serif" fill="#181818" textLength="63.6" lengthAdjust="spacingAndGlyphs">магистраль</text>
<text x="268.6" y="315.4" font-size="12" font-family="'Liberation Sans', sans-serif" fill="#181818" textLength="88.2" lengthAdjust="spacingAndGlyphs">Опорный шкаф</text>
<text x="185.6" y="400.7" font-size="12" font-family="'Liberation Sans', sans-serif" fill="#181818" textLength="68.1" lengthAdjust="spacingAndGlyphs">Оптический</text>
<text x="202.4" y="412.7" font-size="12" font-family="'Liberation Sans', sans-serif" fill="#181818" textLength="38.4" lengthAdjust="spacingAndGlyphs">кабель</text>
<text x="526.3" y="270.2" font-size="12" font-family="'Liberation Sans', sans-serif" fill="#181818" textLength="44.0" lengthAdjust="spacingAndGlyphs">Медный</text>
<text x="504.6" y="282.5" font-size="12" font-family="'Liberation Sans', sans-serif" fill="#181818" textLength="87.4" lengthAdjust="spacingAndGlyphs">телевизионный</text>
<text x="530.2" y="295.4" font-size="12" font-family="'Liberation Sans', sans-serif" fill="#181818" textLength="39.2" lengthAdjust="spacingAndGlyphs">кабель</text>
<text x="312.5" y="471" font-size="12" font-family="'Liberation Sans', sans-serif" fill="#181818" textLength="15.8" lengthAdjust="spacingAndGlyphs">(b)</text>
</svg></body></html>
